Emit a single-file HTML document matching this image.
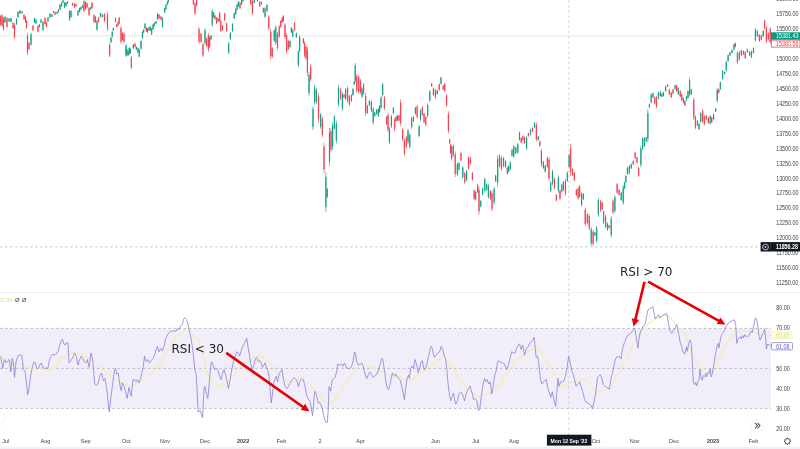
<!DOCTYPE html>
<html><head><meta charset="utf-8"><title>Chart</title>
<style>
html,body{margin:0;padding:0;background:#fff;}
body{width:800px;height:449px;overflow:hidden;position:relative;font-family:"Liberation Sans",Arial,sans-serif;}
svg{position:absolute;left:0;top:0;display:block;}
svg text{font-family:"Liberation Sans",Arial,sans-serif;}
</style></head><body>
<svg width="800" height="449" viewBox="0 0 800 449">

<rect x="0" y="0" width="800" height="449" fill="#ffffff"/>
<rect x="0" y="328.4" width="771" height="80" fill="#f2eef9"/>
<rect x="0" y="446.8" width="800" height="2.2" fill="#f0f1f4"/>
<rect x="0" y="292" width="800" height="1" fill="#eef0f3"/>
<rect x="0" y="35.4" width="771" height="1" fill="#ececec"/>
<line x1="0" y1="246.9" x2="760" y2="246.9" stroke="#c4c6cc" stroke-width="1" stroke-dasharray="2.5 2.5"/>
<line x1="0" y1="328.4" x2="771" y2="328.4" stroke="#b2b4bc" stroke-width="0.9" stroke-dasharray="2.5 2.6"/>
<line x1="0" y1="368.4" x2="771" y2="368.4" stroke="#b2b4bc" stroke-width="0.9" stroke-dasharray="2.5 2.6"/>
<line x1="0" y1="408.4" x2="771" y2="408.4" stroke="#b2b4bc" stroke-width="0.9" stroke-dasharray="2.5 2.6"/>
<line x1="568.8" y1="0" x2="568.8" y2="435" stroke="#c6c8ce" stroke-width="0.8" stroke-dasharray="2.4 2.75"/>
<rect x="0.2" y="15" width="0.6" height="11" fill="#f0424f"/>
<rect x="-0.12" y="16.32" width="1.25" height="8.36" fill="#f0424f"/>
<rect x="1.7" y="14" width="0.6" height="13" fill="#f0424f"/>
<rect x="1.38" y="15.56" width="1.25" height="9.88" fill="#f0424f"/>
<rect x="3.2" y="17" width="0.6" height="14" fill="#f0424f"/>
<rect x="2.88" y="18.68" width="1.25" height="10.64" fill="#f0424f"/>
<rect x="4.7" y="16" width="0.6" height="7" fill="#149f88"/>
<rect x="4.38" y="16.84" width="1.25" height="5.32" fill="#149f88"/>
<rect x="6.7" y="17" width="0.6" height="11" fill="#f0424f"/>
<rect x="6.38" y="18.32" width="1.25" height="8.36" fill="#f0424f"/>
<rect x="8.7" y="18" width="0.6" height="4" fill="#149f88"/>
<rect x="8.38" y="18.48" width="1.25" height="3.04" fill="#149f88"/>
<rect x="10.7" y="17.5" width="0.6" height="5" fill="#149f88"/>
<rect x="10.38" y="18.1" width="1.25" height="3.8" fill="#149f88"/>
<rect x="12.7" y="22" width="0.6" height="7" fill="#f0424f"/>
<rect x="12.38" y="22.84" width="1.25" height="5.32" fill="#f0424f"/>
<rect x="14.2" y="23" width="0.6" height="16" fill="#f0424f"/>
<rect x="13.88" y="24.92" width="1.25" height="12.16" fill="#f0424f"/>
<rect x="16.2" y="18" width="0.6" height="7" fill="#149f88"/>
<rect x="15.88" y="18.84" width="1.25" height="5.32" fill="#149f88"/>
<rect x="17.7" y="11" width="0.6" height="7" fill="#149f88"/>
<rect x="17.38" y="11.84" width="1.25" height="5.32" fill="#149f88"/>
<rect x="19.7" y="10" width="0.6" height="4" fill="#149f88"/>
<rect x="19.38" y="10.48" width="1.25" height="3.04" fill="#149f88"/>
<rect x="21.7" y="11" width="0.6" height="2.5" fill="#149f88"/>
<rect x="21.38" y="11.3" width="1.25" height="1.9" fill="#149f88"/>
<rect x="23.7" y="14" width="0.6" height="6" fill="#f0424f"/>
<rect x="23.38" y="14.72" width="1.25" height="4.56" fill="#f0424f"/>
<rect x="25.2" y="16" width="0.6" height="7" fill="#f0424f"/>
<rect x="24.88" y="16.84" width="1.25" height="5.32" fill="#f0424f"/>
<rect x="26.2" y="20" width="0.6" height="9" fill="#f0424f"/>
<rect x="25.88" y="21.08" width="1.25" height="6.84" fill="#f0424f"/>
<rect x="27.2" y="33" width="0.6" height="22" fill="#f0424f"/>
<rect x="26.88" y="35.64" width="1.25" height="16.72" fill="#f0424f"/>
<rect x="28.7" y="42" width="0.6" height="8" fill="#f0424f"/>
<rect x="28.38" y="42.96" width="1.25" height="6.08" fill="#f0424f"/>
<rect x="30.7" y="32.5" width="0.6" height="13.5" fill="#149f88"/>
<rect x="30.38" y="34.12" width="1.25" height="10.26" fill="#149f88"/>
<rect x="32.7" y="25" width="0.6" height="6" fill="#f0424f"/>
<rect x="32.38" y="25.72" width="1.25" height="4.56" fill="#f0424f"/>
<rect x="34.2" y="17.5" width="0.6" height="5.5" fill="#149f88"/>
<rect x="33.88" y="18.16" width="1.25" height="4.18" fill="#149f88"/>
<rect x="35.7" y="19" width="0.6" height="5" fill="#149f88"/>
<rect x="35.38" y="19.6" width="1.25" height="3.8" fill="#149f88"/>
<rect x="37.7" y="25" width="0.6" height="7.5" fill="#f0424f"/>
<rect x="37.38" y="25.9" width="1.25" height="5.7" fill="#f0424f"/>
<rect x="39.2" y="24" width="0.6" height="3.5" fill="#149f88"/>
<rect x="38.88" y="24.42" width="1.25" height="2.66" fill="#149f88"/>
<rect x="40.7" y="19" width="0.6" height="4" fill="#149f88"/>
<rect x="40.38" y="19.48" width="1.25" height="3.04" fill="#149f88"/>
<rect x="42.7" y="21" width="0.6" height="10" fill="#149f88"/>
<rect x="42.38" y="22.2" width="1.25" height="7.6" fill="#149f88"/>
<rect x="44.7" y="17" width="0.6" height="8" fill="#f0424f"/>
<rect x="44.38" y="17.96" width="1.25" height="6.08" fill="#f0424f"/>
<rect x="46.2" y="21.5" width="0.6" height="6" fill="#f0424f"/>
<rect x="45.88" y="22.22" width="1.25" height="4.56" fill="#f0424f"/>
<rect x="47.7" y="17" width="0.6" height="5" fill="#149f88"/>
<rect x="47.38" y="17.6" width="1.25" height="3.8" fill="#149f88"/>
<rect x="49.7" y="13" width="0.6" height="5" fill="#149f88"/>
<rect x="49.38" y="13.6" width="1.25" height="3.8" fill="#149f88"/>
<rect x="51.7" y="14" width="0.6" height="3" fill="#149f88"/>
<rect x="51.38" y="14.36" width="1.25" height="2.28" fill="#149f88"/>
<rect x="53.2" y="11" width="0.6" height="2" fill="#f0424f"/>
<rect x="52.88" y="11.24" width="1.25" height="1.52" fill="#f0424f"/>
<rect x="54.7" y="11.5" width="0.6" height="3.5" fill="#f0424f"/>
<rect x="54.38" y="11.92" width="1.25" height="2.66" fill="#f0424f"/>
<rect x="56.7" y="11.5" width="0.6" height="2.5" fill="#149f88"/>
<rect x="56.38" y="11.8" width="1.25" height="1.9" fill="#149f88"/>
<rect x="58.2" y="9" width="0.6" height="3.5" fill="#149f88"/>
<rect x="57.88" y="9.42" width="1.25" height="2.66" fill="#149f88"/>
<rect x="59.7" y="4" width="0.6" height="6" fill="#149f88"/>
<rect x="59.38" y="4.72" width="1.25" height="4.56" fill="#149f88"/>
<rect x="61.2" y="2" width="0.6" height="5" fill="#149f88"/>
<rect x="60.88" y="2.6" width="1.25" height="3.8" fill="#149f88"/>
<rect x="62.7" y="0" width="0.6" height="3" fill="#149f88"/>
<rect x="62.38" y="0.36" width="1.25" height="2.28" fill="#149f88"/>
<rect x="64.2" y="2" width="0.6" height="6" fill="#149f88"/>
<rect x="63.88" y="2.72" width="1.25" height="4.56" fill="#149f88"/>
<rect x="65.7" y="2" width="0.6" height="4.5" fill="#149f88"/>
<rect x="65.38" y="2.54" width="1.25" height="3.42" fill="#149f88"/>
<rect x="67.2" y="1" width="0.6" height="3" fill="#149f88"/>
<rect x="66.88" y="1.36" width="1.25" height="2.28" fill="#149f88"/>
<rect x="69.2" y="10" width="0.6" height="11" fill="#149f88"/>
<rect x="68.88" y="11.32" width="1.25" height="8.36" fill="#149f88"/>
<rect x="70.7" y="10" width="0.6" height="8" fill="#149f88"/>
<rect x="70.38" y="10.96" width="1.25" height="6.08" fill="#149f88"/>
<rect x="72.2" y="2.5" width="0.6" height="3.5" fill="#f0424f"/>
<rect x="71.88" y="2.92" width="1.25" height="2.66" fill="#f0424f"/>
<rect x="74.2" y="3" width="0.6" height="5" fill="#f0424f"/>
<rect x="73.88" y="3.6" width="1.25" height="3.8" fill="#f0424f"/>
<rect x="75.7" y="4" width="0.6" height="2.5" fill="#f0424f"/>
<rect x="75.38" y="4.3" width="1.25" height="1.9" fill="#f0424f"/>
<rect x="77.7" y="10" width="0.6" height="6" fill="#149f88"/>
<rect x="77.38" y="10.72" width="1.25" height="4.56" fill="#149f88"/>
<rect x="79.2" y="7.5" width="0.6" height="5" fill="#149f88"/>
<rect x="78.88" y="8.1" width="1.25" height="3.8" fill="#149f88"/>
<rect x="80.7" y="6.5" width="0.6" height="3.5" fill="#149f88"/>
<rect x="80.38" y="6.92" width="1.25" height="2.66" fill="#149f88"/>
<rect x="82.2" y="5" width="0.6" height="3" fill="#149f88"/>
<rect x="81.88" y="5.36" width="1.25" height="2.28" fill="#149f88"/>
<rect x="83.7" y="0" width="0.6" height="12.5" fill="#f0424f"/>
<rect x="83.38" y="1.5" width="1.25" height="9.5" fill="#f0424f"/>
<rect x="85.2" y="1" width="0.6" height="9" fill="#f0424f"/>
<rect x="84.88" y="2.08" width="1.25" height="6.84" fill="#f0424f"/>
<rect x="86.7" y="2.5" width="0.6" height="5.5" fill="#f0424f"/>
<rect x="86.38" y="3.16" width="1.25" height="4.18" fill="#f0424f"/>
<rect x="88.7" y="7" width="0.6" height="9" fill="#f0424f"/>
<rect x="88.38" y="8.08" width="1.25" height="6.84" fill="#f0424f"/>
<rect x="90.2" y="7" width="0.6" height="3" fill="#149f88"/>
<rect x="89.88" y="7.36" width="1.25" height="2.28" fill="#149f88"/>
<rect x="91.7" y="2" width="0.6" height="7" fill="#f0424f"/>
<rect x="91.38" y="2.84" width="1.25" height="5.32" fill="#f0424f"/>
<rect x="93.7" y="14" width="0.6" height="9" fill="#f0424f"/>
<rect x="93.38" y="15.08" width="1.25" height="6.84" fill="#f0424f"/>
<rect x="95.2" y="16" width="0.6" height="7" fill="#f0424f"/>
<rect x="94.88" y="16.84" width="1.25" height="5.32" fill="#f0424f"/>
<rect x="96.7" y="20" width="0.6" height="11" fill="#149f88"/>
<rect x="96.38" y="21.32" width="1.25" height="8.36" fill="#149f88"/>
<rect x="98.2" y="17" width="0.6" height="5.5" fill="#f0424f"/>
<rect x="97.88" y="17.66" width="1.25" height="4.18" fill="#f0424f"/>
<rect x="100.2" y="12.5" width="0.6" height="5" fill="#149f88"/>
<rect x="99.88" y="13.1" width="1.25" height="3.8" fill="#149f88"/>
<rect x="102.2" y="14" width="0.6" height="3.5" fill="#149f88"/>
<rect x="101.88" y="14.42" width="1.25" height="2.66" fill="#149f88"/>
<rect x="104.2" y="13" width="0.6" height="9" fill="#f0424f"/>
<rect x="103.88" y="14.08" width="1.25" height="6.84" fill="#f0424f"/>
<rect x="107.2" y="12" width="0.6" height="19" fill="#f0424f"/>
<rect x="106.88" y="14.28" width="1.25" height="14.44" fill="#f0424f"/>
<rect x="109.4" y="43" width="0.6" height="14" fill="#f0424f"/>
<rect x="109.08" y="44.68" width="1.25" height="10.64" fill="#f0424f"/>
<rect x="110.7" y="37" width="0.6" height="6" fill="#149f88"/>
<rect x="110.38" y="37.72" width="1.25" height="4.56" fill="#149f88"/>
<rect x="111.9" y="31" width="0.6" height="6.5" fill="#149f88"/>
<rect x="111.58" y="31.78" width="1.25" height="4.94" fill="#149f88"/>
<rect x="113" y="27.5" width="0.6" height="3.5" fill="#149f88"/>
<rect x="112.67" y="27.92" width="1.25" height="2.66" fill="#149f88"/>
<rect x="115.2" y="17.5" width="0.6" height="5" fill="#149f88"/>
<rect x="114.88" y="18.1" width="1.25" height="3.8" fill="#149f88"/>
<rect x="116.4" y="24" width="0.6" height="3.5" fill="#f0424f"/>
<rect x="116.08" y="24.42" width="1.25" height="2.66" fill="#f0424f"/>
<rect x="117.7" y="21.5" width="0.6" height="4.5" fill="#f0424f"/>
<rect x="117.38" y="22.04" width="1.25" height="3.42" fill="#f0424f"/>
<rect x="118.9" y="17" width="0.6" height="7" fill="#f0424f"/>
<rect x="118.58" y="17.84" width="1.25" height="5.32" fill="#f0424f"/>
<rect x="120.7" y="26" width="0.6" height="18" fill="#f0424f"/>
<rect x="120.38" y="28.16" width="1.25" height="13.68" fill="#f0424f"/>
<rect x="122.2" y="32" width="0.6" height="9" fill="#f0424f"/>
<rect x="121.88" y="33.08" width="1.25" height="6.84" fill="#f0424f"/>
<rect x="123.7" y="32.5" width="0.6" height="10.5" fill="#f0424f"/>
<rect x="123.38" y="33.76" width="1.25" height="7.98" fill="#f0424f"/>
<rect x="125.7" y="44" width="0.6" height="13" fill="#149f88"/>
<rect x="125.38" y="45.56" width="1.25" height="9.88" fill="#149f88"/>
<rect x="126.5" y="48" width="0.6" height="8" fill="#149f88"/>
<rect x="126.17" y="48.96" width="1.25" height="6.08" fill="#149f88"/>
<rect x="127.7" y="50" width="0.6" height="6" fill="#149f88"/>
<rect x="127.38" y="50.72" width="1.25" height="4.56" fill="#149f88"/>
<rect x="128.9" y="47" width="0.6" height="8" fill="#149f88"/>
<rect x="128.57" y="47.96" width="1.25" height="6.08" fill="#149f88"/>
<rect x="129.9" y="48" width="0.6" height="6" fill="#149f88"/>
<rect x="129.57" y="48.72" width="1.25" height="4.56" fill="#149f88"/>
<rect x="131" y="56" width="0.6" height="13" fill="#f0424f"/>
<rect x="130.68" y="57.56" width="1.25" height="9.88" fill="#f0424f"/>
<rect x="133" y="44" width="0.6" height="5" fill="#149f88"/>
<rect x="132.68" y="44.6" width="1.25" height="3.8" fill="#149f88"/>
<rect x="134.7" y="43" width="0.6" height="4.5" fill="#f0424f"/>
<rect x="134.38" y="43.54" width="1.25" height="3.42" fill="#f0424f"/>
<rect x="136" y="46.5" width="0.6" height="3.5" fill="#149f88"/>
<rect x="135.68" y="46.92" width="1.25" height="2.66" fill="#149f88"/>
<rect x="137.7" y="47.5" width="0.6" height="5.5" fill="#149f88"/>
<rect x="137.38" y="48.16" width="1.25" height="4.18" fill="#149f88"/>
<rect x="138.9" y="49" width="0.6" height="8.5" fill="#149f88"/>
<rect x="138.57" y="50.02" width="1.25" height="6.46" fill="#149f88"/>
<rect x="140.7" y="40" width="0.6" height="10" fill="#149f88"/>
<rect x="140.38" y="41.2" width="1.25" height="7.6" fill="#149f88"/>
<rect x="142.2" y="31" width="0.6" height="8" fill="#149f88"/>
<rect x="141.88" y="31.96" width="1.25" height="6.08" fill="#149f88"/>
<rect x="143.4" y="29" width="0.6" height="4" fill="#149f88"/>
<rect x="143.07" y="29.48" width="1.25" height="3.04" fill="#149f88"/>
<rect x="144.7" y="23" width="0.6" height="6" fill="#149f88"/>
<rect x="144.38" y="23.72" width="1.25" height="4.56" fill="#149f88"/>
<rect x="146" y="27" width="0.6" height="5" fill="#f0424f"/>
<rect x="145.68" y="27.6" width="1.25" height="3.8" fill="#f0424f"/>
<rect x="147.2" y="28" width="0.6" height="5" fill="#f0424f"/>
<rect x="146.88" y="28.6" width="1.25" height="3.8" fill="#f0424f"/>
<rect x="148.7" y="27" width="0.6" height="4" fill="#149f88"/>
<rect x="148.38" y="27.48" width="1.25" height="3.04" fill="#149f88"/>
<rect x="150" y="26" width="0.6" height="5" fill="#149f88"/>
<rect x="149.68" y="26.6" width="1.25" height="3.8" fill="#149f88"/>
<rect x="151.4" y="28" width="0.6" height="7" fill="#149f88"/>
<rect x="151.07" y="28.84" width="1.25" height="5.32" fill="#149f88"/>
<rect x="152.7" y="24" width="0.6" height="6" fill="#149f88"/>
<rect x="152.38" y="24.72" width="1.25" height="4.56" fill="#149f88"/>
<rect x="153.9" y="22.5" width="0.6" height="4" fill="#149f88"/>
<rect x="153.57" y="22.98" width="1.25" height="3.04" fill="#149f88"/>
<rect x="155.7" y="21" width="0.6" height="3" fill="#149f88"/>
<rect x="155.38" y="21.36" width="1.25" height="2.28" fill="#149f88"/>
<rect x="157.2" y="13" width="0.6" height="7" fill="#149f88"/>
<rect x="156.88" y="13.84" width="1.25" height="5.32" fill="#149f88"/>
<rect x="158.7" y="14" width="0.6" height="5" fill="#f0424f"/>
<rect x="158.38" y="14.6" width="1.25" height="3.8" fill="#f0424f"/>
<rect x="160.7" y="16" width="0.6" height="4" fill="#f0424f"/>
<rect x="160.38" y="16.48" width="1.25" height="3.04" fill="#f0424f"/>
<rect x="162.2" y="17" width="0.6" height="11" fill="#149f88"/>
<rect x="161.88" y="18.32" width="1.25" height="8.36" fill="#149f88"/>
<rect x="164.4" y="8" width="0.6" height="5" fill="#149f88"/>
<rect x="164.07" y="8.6" width="1.25" height="3.8" fill="#149f88"/>
<rect x="165.7" y="4" width="0.6" height="6" fill="#149f88"/>
<rect x="165.38" y="4.72" width="1.25" height="4.56" fill="#149f88"/>
<rect x="167.2" y="1" width="0.6" height="4" fill="#149f88"/>
<rect x="166.88" y="1.48" width="1.25" height="3.04" fill="#149f88"/>
<rect x="168" y="-2" width="0.6" height="4.5" fill="#149f88"/>
<rect x="167.68" y="-1.46" width="1.25" height="3.42" fill="#149f88"/>
<rect x="193" y="-2" width="0.6" height="7" fill="#f0424f"/>
<rect x="192.68" y="-1.16" width="1.25" height="5.32" fill="#f0424f"/>
<rect x="194.7" y="2" width="0.6" height="13" fill="#f0424f"/>
<rect x="194.38" y="3.56" width="1.25" height="9.88" fill="#f0424f"/>
<rect x="196.4" y="-2" width="0.6" height="8.5" fill="#f0424f"/>
<rect x="196.07" y="-0.98" width="1.25" height="6.46" fill="#f0424f"/>
<rect x="198.7" y="27" width="0.6" height="17" fill="#f0424f"/>
<rect x="198.38" y="29.04" width="1.25" height="12.92" fill="#f0424f"/>
<rect x="200.7" y="32.5" width="0.6" height="10.5" fill="#f0424f"/>
<rect x="200.38" y="33.76" width="1.25" height="7.98" fill="#f0424f"/>
<rect x="202.7" y="42.5" width="0.6" height="14.5" fill="#f0424f"/>
<rect x="202.38" y="44.24" width="1.25" height="11.02" fill="#f0424f"/>
<rect x="204.7" y="28" width="0.6" height="17" fill="#149f88"/>
<rect x="204.38" y="30.04" width="1.25" height="12.92" fill="#149f88"/>
<rect x="206.4" y="37.5" width="0.6" height="9.5" fill="#f0424f"/>
<rect x="206.07" y="38.64" width="1.25" height="7.22" fill="#f0424f"/>
<rect x="208" y="33" width="0.6" height="19" fill="#f0424f"/>
<rect x="207.68" y="35.28" width="1.25" height="14.44" fill="#f0424f"/>
<rect x="209.4" y="36" width="0.6" height="12" fill="#f0424f"/>
<rect x="209.07" y="37.44" width="1.25" height="9.12" fill="#f0424f"/>
<rect x="210.7" y="35" width="0.6" height="5" fill="#149f88"/>
<rect x="210.38" y="35.6" width="1.25" height="3.8" fill="#149f88"/>
<rect x="211.9" y="9" width="0.6" height="18" fill="#149f88"/>
<rect x="211.57" y="11.16" width="1.25" height="13.68" fill="#149f88"/>
<rect x="213.4" y="12" width="0.6" height="6" fill="#149f88"/>
<rect x="213.07" y="12.72" width="1.25" height="4.56" fill="#149f88"/>
<rect x="214.7" y="15" width="0.6" height="5" fill="#f0424f"/>
<rect x="214.38" y="15.6" width="1.25" height="3.8" fill="#f0424f"/>
<rect x="216.4" y="17" width="0.6" height="7" fill="#f0424f"/>
<rect x="216.07" y="17.84" width="1.25" height="5.32" fill="#f0424f"/>
<rect x="217.7" y="18" width="0.6" height="4" fill="#f0424f"/>
<rect x="217.38" y="18.48" width="1.25" height="3.04" fill="#f0424f"/>
<rect x="219.4" y="12" width="0.6" height="10.5" fill="#f0424f"/>
<rect x="219.07" y="13.26" width="1.25" height="7.98" fill="#f0424f"/>
<rect x="220.5" y="20" width="0.6" height="12" fill="#f0424f"/>
<rect x="220.18" y="21.44" width="1.25" height="9.12" fill="#f0424f"/>
<rect x="222.2" y="25" width="0.6" height="6" fill="#f0424f"/>
<rect x="221.88" y="25.72" width="1.25" height="4.56" fill="#f0424f"/>
<rect x="224.4" y="12.5" width="0.6" height="8.5" fill="#f0424f"/>
<rect x="224.07" y="13.52" width="1.25" height="6.46" fill="#f0424f"/>
<rect x="226.4" y="22.5" width="0.6" height="9.5" fill="#f0424f"/>
<rect x="226.07" y="23.64" width="1.25" height="7.22" fill="#f0424f"/>
<rect x="228.4" y="42" width="0.6" height="12" fill="#149f88"/>
<rect x="228.07" y="43.44" width="1.25" height="9.12" fill="#149f88"/>
<rect x="230" y="32" width="0.6" height="8" fill="#149f88"/>
<rect x="229.68" y="32.96" width="1.25" height="6.08" fill="#149f88"/>
<rect x="232.2" y="23" width="0.6" height="9" fill="#149f88"/>
<rect x="231.88" y="24.08" width="1.25" height="6.84" fill="#149f88"/>
<rect x="233.9" y="12.5" width="0.6" height="6.5" fill="#149f88"/>
<rect x="233.57" y="13.28" width="1.25" height="4.94" fill="#149f88"/>
<rect x="235.5" y="8" width="0.6" height="7" fill="#149f88"/>
<rect x="235.18" y="8.84" width="1.25" height="5.32" fill="#149f88"/>
<rect x="236.7" y="4" width="0.6" height="6" fill="#149f88"/>
<rect x="236.38" y="4.72" width="1.25" height="4.56" fill="#149f88"/>
<rect x="238" y="1" width="0.6" height="6" fill="#149f88"/>
<rect x="237.68" y="1.72" width="1.25" height="4.56" fill="#149f88"/>
<rect x="239.7" y="2" width="0.6" height="7" fill="#f0424f"/>
<rect x="239.38" y="2.84" width="1.25" height="5.32" fill="#f0424f"/>
<rect x="241.4" y="-1" width="0.6" height="6" fill="#149f88"/>
<rect x="241.07" y="-0.28" width="1.25" height="4.56" fill="#149f88"/>
<rect x="242.7" y="-2" width="0.6" height="3.7" fill="#149f88"/>
<rect x="242.38" y="-1.56" width="1.25" height="2.81" fill="#149f88"/>
<rect x="250.5" y="-2" width="0.6" height="7" fill="#f0424f"/>
<rect x="250.18" y="-1.16" width="1.25" height="5.32" fill="#f0424f"/>
<rect x="252.2" y="-1" width="0.6" height="16" fill="#f0424f"/>
<rect x="251.88" y="0.92" width="1.25" height="12.16" fill="#f0424f"/>
<rect x="253.9" y="-2" width="0.6" height="5.3" fill="#149f88"/>
<rect x="253.57" y="-1.36" width="1.25" height="4.03" fill="#149f88"/>
<rect x="257.2" y="-2" width="0.6" height="3.7" fill="#149f88"/>
<rect x="256.88" y="-1.56" width="1.25" height="2.81" fill="#149f88"/>
<rect x="259.4" y="1" width="0.6" height="6" fill="#f0424f"/>
<rect x="259.07" y="1.72" width="1.25" height="4.56" fill="#f0424f"/>
<rect x="261" y="1.7" width="0.6" height="3.3" fill="#f0424f"/>
<rect x="260.68" y="2.1" width="1.25" height="2.51" fill="#f0424f"/>
<rect x="263" y="7.5" width="0.6" height="5.5" fill="#f0424f"/>
<rect x="262.68" y="8.16" width="1.25" height="4.18" fill="#f0424f"/>
<rect x="264.7" y="7" width="0.6" height="11" fill="#149f88"/>
<rect x="264.38" y="8.32" width="1.25" height="8.36" fill="#149f88"/>
<rect x="266.7" y="4" width="0.6" height="8" fill="#149f88"/>
<rect x="266.38" y="4.96" width="1.25" height="6.08" fill="#149f88"/>
<rect x="268.5" y="15" width="0.6" height="15" fill="#f0424f"/>
<rect x="268.18" y="16.8" width="1.25" height="11.4" fill="#f0424f"/>
<rect x="270.5" y="28" width="0.6" height="32" fill="#f0424f"/>
<rect x="270.18" y="31.84" width="1.25" height="24.32" fill="#f0424f"/>
<rect x="271.9" y="47" width="0.6" height="11" fill="#f0424f"/>
<rect x="271.57" y="48.32" width="1.25" height="8.36" fill="#f0424f"/>
<rect x="273.9" y="29" width="0.6" height="13" fill="#149f88"/>
<rect x="273.57" y="30.56" width="1.25" height="9.88" fill="#149f88"/>
<rect x="275.5" y="25" width="0.6" height="20" fill="#149f88"/>
<rect x="275.18" y="27.4" width="1.25" height="15.2" fill="#149f88"/>
<rect x="277.2" y="32" width="0.6" height="18" fill="#f0424f"/>
<rect x="276.88" y="34.16" width="1.25" height="13.68" fill="#f0424f"/>
<rect x="278.9" y="25" width="0.6" height="13" fill="#f0424f"/>
<rect x="278.57" y="26.56" width="1.25" height="9.88" fill="#f0424f"/>
<rect x="280.5" y="20" width="0.6" height="8" fill="#f0424f"/>
<rect x="280.18" y="20.96" width="1.25" height="6.08" fill="#f0424f"/>
<rect x="281.9" y="17" width="0.6" height="6" fill="#f0424f"/>
<rect x="281.57" y="17.72" width="1.25" height="4.56" fill="#f0424f"/>
<rect x="283" y="15" width="0.6" height="7" fill="#f0424f"/>
<rect x="282.68" y="15.84" width="1.25" height="5.32" fill="#f0424f"/>
<rect x="284.7" y="23" width="0.6" height="16" fill="#f0424f"/>
<rect x="284.38" y="24.92" width="1.25" height="12.16" fill="#f0424f"/>
<rect x="286.4" y="33" width="0.6" height="21" fill="#f0424f"/>
<rect x="286.07" y="35.52" width="1.25" height="15.96" fill="#f0424f"/>
<rect x="288" y="40" width="0.6" height="10" fill="#f0424f"/>
<rect x="287.68" y="41.2" width="1.25" height="7.6" fill="#f0424f"/>
<rect x="289.7" y="40" width="0.6" height="8" fill="#149f88"/>
<rect x="289.38" y="40.96" width="1.25" height="6.08" fill="#149f88"/>
<rect x="291" y="27" width="0.6" height="6" fill="#149f88"/>
<rect x="290.68" y="27.72" width="1.25" height="4.56" fill="#149f88"/>
<rect x="292.5" y="29" width="0.6" height="8.5" fill="#149f88"/>
<rect x="292.18" y="30.02" width="1.25" height="6.46" fill="#149f88"/>
<rect x="294.2" y="22" width="0.6" height="9" fill="#f0424f"/>
<rect x="293.88" y="23.08" width="1.25" height="6.84" fill="#f0424f"/>
<rect x="296" y="32.5" width="0.6" height="5.5" fill="#149f88"/>
<rect x="295.68" y="33.16" width="1.25" height="4.18" fill="#149f88"/>
<rect x="298" y="50" width="0.6" height="17" fill="#149f88"/>
<rect x="297.68" y="52.04" width="1.25" height="12.92" fill="#149f88"/>
<rect x="299.4" y="35" width="0.6" height="18" fill="#149f88"/>
<rect x="299.07" y="37.16" width="1.25" height="13.68" fill="#149f88"/>
<rect x="303.1" y="38" width="0.6" height="6" fill="#f0424f"/>
<rect x="302.77" y="38.72" width="1.25" height="4.56" fill="#f0424f"/>
<rect x="304.4" y="41.3" width="0.6" height="16.1" fill="#f0424f"/>
<rect x="304.07" y="43.23" width="1.25" height="12.24" fill="#f0424f"/>
<rect x="305.7" y="45" width="0.6" height="15" fill="#f0424f"/>
<rect x="305.38" y="46.8" width="1.25" height="11.4" fill="#f0424f"/>
<rect x="307.1" y="47" width="0.6" height="29" fill="#f0424f"/>
<rect x="306.77" y="50.48" width="1.25" height="22.04" fill="#f0424f"/>
<rect x="308.7" y="72" width="0.6" height="24" fill="#149f88"/>
<rect x="308.38" y="74.88" width="1.25" height="18.24" fill="#149f88"/>
<rect x="310.4" y="64.7" width="0.6" height="16.7" fill="#f0424f"/>
<rect x="310.07" y="66.7" width="1.25" height="12.69" fill="#f0424f"/>
<rect x="312.7" y="106" width="0.6" height="24" fill="#149f88"/>
<rect x="312.38" y="108.88" width="1.25" height="18.24" fill="#149f88"/>
<rect x="314.4" y="84.7" width="0.6" height="20" fill="#149f88"/>
<rect x="314.07" y="87.1" width="1.25" height="15.2" fill="#149f88"/>
<rect x="316.1" y="88" width="0.6" height="16" fill="#149f88"/>
<rect x="315.77" y="89.92" width="1.25" height="12.16" fill="#149f88"/>
<rect x="318.2" y="92.7" width="0.6" height="30.3" fill="#f0424f"/>
<rect x="317.88" y="96.34" width="1.25" height="23.03" fill="#f0424f"/>
<rect x="320.4" y="112.7" width="0.6" height="16" fill="#149f88"/>
<rect x="320.07" y="114.62" width="1.25" height="12.16" fill="#149f88"/>
<rect x="322" y="116.7" width="0.6" height="20.7" fill="#f0424f"/>
<rect x="321.68" y="119.18" width="1.25" height="15.73" fill="#f0424f"/>
<rect x="323.7" y="143" width="0.6" height="30" fill="#f0424f"/>
<rect x="323.38" y="146.6" width="1.25" height="22.8" fill="#f0424f"/>
<rect x="325.6" y="172" width="0.6" height="40" fill="#149f88"/>
<rect x="325.27" y="176.8" width="1.25" height="30.4" fill="#149f88"/>
<rect x="326.9" y="188" width="0.6" height="10" fill="#149f88"/>
<rect x="326.57" y="189.2" width="1.25" height="7.6" fill="#149f88"/>
<rect x="329.2" y="128" width="0.6" height="38" fill="#149f88"/>
<rect x="328.88" y="132.56" width="1.25" height="28.88" fill="#149f88"/>
<rect x="330.7" y="128" width="0.6" height="24.5" fill="#f0424f"/>
<rect x="330.38" y="130.94" width="1.25" height="18.62" fill="#f0424f"/>
<rect x="332.4" y="122" width="0.6" height="28" fill="#149f88"/>
<rect x="332.07" y="125.36" width="1.25" height="21.28" fill="#149f88"/>
<rect x="334.1" y="114.7" width="0.6" height="15.3" fill="#149f88"/>
<rect x="333.77" y="116.54" width="1.25" height="11.63" fill="#149f88"/>
<rect x="336" y="120.7" width="0.6" height="22.7" fill="#149f88"/>
<rect x="335.68" y="123.42" width="1.25" height="17.25" fill="#149f88"/>
<rect x="338.2" y="85" width="0.6" height="22" fill="#149f88"/>
<rect x="337.88" y="87.64" width="1.25" height="16.72" fill="#149f88"/>
<rect x="340.3" y="88" width="0.6" height="12" fill="#f0424f"/>
<rect x="339.98" y="89.44" width="1.25" height="9.12" fill="#f0424f"/>
<rect x="342.1" y="92" width="0.6" height="19" fill="#149f88"/>
<rect x="341.77" y="94.28" width="1.25" height="14.44" fill="#149f88"/>
<rect x="343.7" y="94" width="0.6" height="4" fill="#f0424f"/>
<rect x="343.38" y="94.48" width="1.25" height="3.04" fill="#f0424f"/>
<rect x="345.4" y="88" width="0.6" height="12" fill="#149f88"/>
<rect x="345.07" y="89.44" width="1.25" height="9.12" fill="#149f88"/>
<rect x="347.3" y="86" width="0.6" height="17" fill="#f0424f"/>
<rect x="346.98" y="88.04" width="1.25" height="12.92" fill="#f0424f"/>
<rect x="349.1" y="95" width="0.6" height="11" fill="#f0424f"/>
<rect x="348.77" y="96.32" width="1.25" height="8.36" fill="#f0424f"/>
<rect x="351.1" y="94" width="0.6" height="8" fill="#f0424f"/>
<rect x="350.77" y="94.96" width="1.25" height="6.08" fill="#f0424f"/>
<rect x="352.7" y="88" width="0.6" height="8" fill="#149f88"/>
<rect x="352.38" y="88.96" width="1.25" height="6.08" fill="#149f88"/>
<rect x="353.9" y="81" width="0.6" height="4" fill="#149f88"/>
<rect x="353.57" y="81.48" width="1.25" height="3.04" fill="#149f88"/>
<rect x="354.9" y="63" width="0.6" height="20" fill="#149f88"/>
<rect x="354.57" y="65.4" width="1.25" height="15.2" fill="#149f88"/>
<rect x="356.5" y="74" width="0.6" height="19" fill="#f0424f"/>
<rect x="356.18" y="76.28" width="1.25" height="14.44" fill="#f0424f"/>
<rect x="358.5" y="75" width="0.6" height="19" fill="#f0424f"/>
<rect x="358.18" y="77.28" width="1.25" height="14.44" fill="#f0424f"/>
<rect x="360.2" y="78.7" width="0.6" height="15.3" fill="#f0424f"/>
<rect x="359.88" y="80.54" width="1.25" height="11.63" fill="#f0424f"/>
<rect x="361.7" y="87" width="0.6" height="11" fill="#149f88"/>
<rect x="361.38" y="88.32" width="1.25" height="8.36" fill="#149f88"/>
<rect x="363.3" y="83" width="0.6" height="12" fill="#f0424f"/>
<rect x="362.98" y="84.44" width="1.25" height="9.12" fill="#f0424f"/>
<rect x="365.4" y="92.7" width="0.6" height="23.3" fill="#f0424f"/>
<rect x="365.07" y="95.5" width="1.25" height="17.71" fill="#f0424f"/>
<rect x="367.1" y="104.7" width="0.6" height="9.3" fill="#f0424f"/>
<rect x="366.77" y="105.82" width="1.25" height="7.07" fill="#f0424f"/>
<rect x="369.1" y="100" width="0.6" height="6" fill="#149f88"/>
<rect x="368.77" y="100.72" width="1.25" height="4.56" fill="#149f88"/>
<rect x="371.1" y="100.7" width="0.6" height="11.3" fill="#149f88"/>
<rect x="370.77" y="102.06" width="1.25" height="8.59" fill="#149f88"/>
<rect x="372.9" y="107" width="0.6" height="17.7" fill="#149f88"/>
<rect x="372.57" y="109.12" width="1.25" height="13.45" fill="#149f88"/>
<rect x="374.5" y="112" width="0.6" height="4.7" fill="#149f88"/>
<rect x="374.18" y="112.56" width="1.25" height="3.57" fill="#149f88"/>
<rect x="376.4" y="109" width="0.6" height="5.7" fill="#149f88"/>
<rect x="376.07" y="109.68" width="1.25" height="4.33" fill="#149f88"/>
<rect x="378" y="108" width="0.6" height="9" fill="#149f88"/>
<rect x="377.68" y="109.08" width="1.25" height="6.84" fill="#149f88"/>
<rect x="379.3" y="105" width="0.6" height="8" fill="#149f88"/>
<rect x="378.98" y="105.96" width="1.25" height="6.08" fill="#149f88"/>
<rect x="380.7" y="96" width="0.6" height="13" fill="#149f88"/>
<rect x="380.38" y="97.56" width="1.25" height="9.88" fill="#149f88"/>
<rect x="382.4" y="82.7" width="0.6" height="14" fill="#149f88"/>
<rect x="382.07" y="84.38" width="1.25" height="10.64" fill="#149f88"/>
<rect x="384.1" y="96" width="0.6" height="14" fill="#f0424f"/>
<rect x="383.77" y="97.68" width="1.25" height="10.64" fill="#f0424f"/>
<rect x="386.4" y="116" width="0.6" height="9" fill="#f0424f"/>
<rect x="386.07" y="117.08" width="1.25" height="6.84" fill="#f0424f"/>
<rect x="387.7" y="112.7" width="0.6" height="19.3" fill="#f0424f"/>
<rect x="387.38" y="115.02" width="1.25" height="14.67" fill="#f0424f"/>
<rect x="389.1" y="126.7" width="0.6" height="17.3" fill="#149f88"/>
<rect x="388.77" y="128.78" width="1.25" height="13.15" fill="#149f88"/>
<rect x="391.1" y="114.7" width="0.6" height="13.3" fill="#149f88"/>
<rect x="390.77" y="116.3" width="1.25" height="10.11" fill="#149f88"/>
<rect x="393.1" y="107" width="0.6" height="7" fill="#149f88"/>
<rect x="392.77" y="107.84" width="1.25" height="5.32" fill="#149f88"/>
<rect x="394.4" y="118" width="0.6" height="13" fill="#f0424f"/>
<rect x="394.07" y="119.56" width="1.25" height="9.88" fill="#f0424f"/>
<rect x="395.7" y="116" width="0.6" height="6" fill="#f0424f"/>
<rect x="395.38" y="116.72" width="1.25" height="4.56" fill="#f0424f"/>
<rect x="397.1" y="115" width="0.6" height="6" fill="#149f88"/>
<rect x="396.77" y="115.72" width="1.25" height="4.56" fill="#149f88"/>
<rect x="398.7" y="114.7" width="0.6" height="6.7" fill="#f0424f"/>
<rect x="398.38" y="115.5" width="1.25" height="5.09" fill="#f0424f"/>
<rect x="400.4" y="99.4" width="0.6" height="26.6" fill="#f0424f"/>
<rect x="400.07" y="102.59" width="1.25" height="20.22" fill="#f0424f"/>
<rect x="402.4" y="128" width="0.6" height="13.4" fill="#f0424f"/>
<rect x="402.07" y="129.61" width="1.25" height="10.18" fill="#f0424f"/>
<rect x="404.1" y="138.7" width="0.6" height="17.3" fill="#f0424f"/>
<rect x="403.77" y="140.78" width="1.25" height="13.15" fill="#f0424f"/>
<rect x="406" y="136" width="0.6" height="12" fill="#f0424f"/>
<rect x="405.68" y="137.44" width="1.25" height="9.12" fill="#f0424f"/>
<rect x="407.7" y="128.7" width="0.6" height="15.3" fill="#149f88"/>
<rect x="407.38" y="130.54" width="1.25" height="11.63" fill="#149f88"/>
<rect x="409.5" y="133" width="0.6" height="15.7" fill="#149f88"/>
<rect x="409.18" y="134.88" width="1.25" height="11.93" fill="#149f88"/>
<rect x="411.4" y="116.7" width="0.6" height="12" fill="#149f88"/>
<rect x="411.07" y="118.14" width="1.25" height="9.12" fill="#149f88"/>
<rect x="413.1" y="116" width="0.6" height="6" fill="#f0424f"/>
<rect x="412.77" y="116.72" width="1.25" height="4.56" fill="#f0424f"/>
<rect x="415.1" y="106.7" width="0.6" height="8" fill="#149f88"/>
<rect x="414.77" y="107.66" width="1.25" height="6.08" fill="#149f88"/>
<rect x="416.8" y="104.7" width="0.6" height="14" fill="#f0424f"/>
<rect x="416.48" y="106.38" width="1.25" height="10.64" fill="#f0424f"/>
<rect x="418.8" y="124.7" width="0.6" height="12.7" fill="#149f88"/>
<rect x="418.48" y="126.22" width="1.25" height="9.65" fill="#149f88"/>
<rect x="420.2" y="109" width="0.6" height="12" fill="#149f88"/>
<rect x="419.88" y="110.44" width="1.25" height="9.12" fill="#149f88"/>
<rect x="422" y="106" width="0.6" height="10" fill="#f0424f"/>
<rect x="421.68" y="107.2" width="1.25" height="7.6" fill="#f0424f"/>
<rect x="423.7" y="112.7" width="0.6" height="10.7" fill="#f0424f"/>
<rect x="423.38" y="113.98" width="1.25" height="8.13" fill="#f0424f"/>
<rect x="425.5" y="116" width="0.6" height="10" fill="#f0424f"/>
<rect x="425.18" y="117.2" width="1.25" height="7.6" fill="#f0424f"/>
<rect x="427.4" y="103.3" width="0.6" height="14.1" fill="#149f88"/>
<rect x="427.07" y="104.99" width="1.25" height="10.72" fill="#149f88"/>
<rect x="429.5" y="90" width="0.6" height="12" fill="#149f88"/>
<rect x="429.18" y="91.44" width="1.25" height="9.12" fill="#149f88"/>
<rect x="431.4" y="83" width="0.6" height="4" fill="#f0424f"/>
<rect x="431.07" y="83.48" width="1.25" height="3.04" fill="#f0424f"/>
<rect x="433.1" y="87.4" width="0.6" height="8.6" fill="#f0424f"/>
<rect x="432.77" y="88.43" width="1.25" height="6.54" fill="#f0424f"/>
<rect x="435.1" y="88.7" width="0.6" height="10" fill="#f0424f"/>
<rect x="434.77" y="89.9" width="1.25" height="7.6" fill="#f0424f"/>
<rect x="436.9" y="90" width="0.6" height="4.7" fill="#149f88"/>
<rect x="436.57" y="90.56" width="1.25" height="3.57" fill="#149f88"/>
<rect x="438.9" y="83.4" width="0.6" height="7.3" fill="#f0424f"/>
<rect x="438.57" y="84.28" width="1.25" height="5.55" fill="#f0424f"/>
<rect x="440.7" y="76.7" width="0.6" height="8" fill="#149f88"/>
<rect x="440.38" y="77.66" width="1.25" height="6.08" fill="#149f88"/>
<rect x="442.9" y="85" width="0.6" height="5" fill="#f0424f"/>
<rect x="442.57" y="85.6" width="1.25" height="3.8" fill="#f0424f"/>
<rect x="444.5" y="82.7" width="0.6" height="9.3" fill="#f0424f"/>
<rect x="444.18" y="83.82" width="1.25" height="7.07" fill="#f0424f"/>
<rect x="446.3" y="94" width="0.6" height="12.7" fill="#f0424f"/>
<rect x="445.98" y="95.52" width="1.25" height="9.65" fill="#f0424f"/>
<rect x="448.1" y="111.3" width="0.6" height="22.1" fill="#f0424f"/>
<rect x="447.77" y="113.95" width="1.25" height="16.8" fill="#f0424f"/>
<rect x="449.4" y="138.7" width="0.6" height="5.3" fill="#f0424f"/>
<rect x="449.07" y="139.34" width="1.25" height="4.03" fill="#f0424f"/>
<rect x="450.3" y="144" width="0.6" height="10" fill="#f0424f"/>
<rect x="449.98" y="145.2" width="1.25" height="7.6" fill="#f0424f"/>
<rect x="451.4" y="144.7" width="0.6" height="16" fill="#f0424f"/>
<rect x="451.07" y="146.62" width="1.25" height="12.16" fill="#f0424f"/>
<rect x="453" y="144.7" width="0.6" height="12" fill="#149f88"/>
<rect x="452.68" y="146.14" width="1.25" height="9.12" fill="#149f88"/>
<rect x="454.9" y="151.4" width="0.6" height="25.6" fill="#f0424f"/>
<rect x="454.57" y="154.47" width="1.25" height="19.46" fill="#f0424f"/>
<rect x="457" y="162.7" width="0.6" height="13.3" fill="#149f88"/>
<rect x="456.68" y="164.3" width="1.25" height="10.11" fill="#149f88"/>
<rect x="458.7" y="162" width="0.6" height="8.7" fill="#149f88"/>
<rect x="458.38" y="163.04" width="1.25" height="6.61" fill="#149f88"/>
<rect x="460.7" y="152" width="0.6" height="9.4" fill="#f0424f"/>
<rect x="460.38" y="153.13" width="1.25" height="7.14" fill="#f0424f"/>
<rect x="462.5" y="166" width="0.6" height="12.7" fill="#149f88"/>
<rect x="462.18" y="167.52" width="1.25" height="9.65" fill="#149f88"/>
<rect x="464.5" y="172" width="0.6" height="12" fill="#f0424f"/>
<rect x="464.18" y="173.44" width="1.25" height="9.12" fill="#f0424f"/>
<rect x="466.3" y="170" width="0.6" height="11.4" fill="#149f88"/>
<rect x="465.98" y="171.37" width="1.25" height="8.66" fill="#149f88"/>
<rect x="468.2" y="156" width="0.6" height="14" fill="#f0424f"/>
<rect x="467.88" y="157.68" width="1.25" height="10.64" fill="#f0424f"/>
<rect x="470.1" y="156.7" width="0.6" height="8" fill="#f0424f"/>
<rect x="469.77" y="157.66" width="1.25" height="6.08" fill="#f0424f"/>
<rect x="472.1" y="172" width="0.6" height="8.7" fill="#f0424f"/>
<rect x="471.77" y="173.04" width="1.25" height="6.61" fill="#f0424f"/>
<rect x="473.8" y="189.4" width="0.6" height="10.6" fill="#f0424f"/>
<rect x="473.48" y="190.67" width="1.25" height="8.06" fill="#f0424f"/>
<rect x="475.4" y="190.7" width="0.6" height="10" fill="#149f88"/>
<rect x="475.07" y="191.9" width="1.25" height="7.6" fill="#149f88"/>
<rect x="477.4" y="184" width="0.6" height="9.4" fill="#f0424f"/>
<rect x="477.07" y="185.13" width="1.25" height="7.14" fill="#f0424f"/>
<rect x="478.7" y="186.7" width="0.6" height="28" fill="#f0424f"/>
<rect x="478.38" y="190.06" width="1.25" height="21.28" fill="#f0424f"/>
<rect x="480.5" y="200" width="0.6" height="7.4" fill="#149f88"/>
<rect x="480.18" y="200.89" width="1.25" height="5.62" fill="#149f88"/>
<rect x="482.3" y="187.4" width="0.6" height="8" fill="#149f88"/>
<rect x="481.98" y="188.36" width="1.25" height="6.08" fill="#149f88"/>
<rect x="484.5" y="177.4" width="0.6" height="15.3" fill="#149f88"/>
<rect x="484.18" y="179.24" width="1.25" height="11.63" fill="#149f88"/>
<rect x="486.4" y="183.4" width="0.6" height="7.3" fill="#149f88"/>
<rect x="486.07" y="184.28" width="1.25" height="5.55" fill="#149f88"/>
<rect x="488.1" y="184" width="0.6" height="14.7" fill="#149f88"/>
<rect x="487.77" y="185.76" width="1.25" height="11.17" fill="#149f88"/>
<rect x="490.1" y="190" width="0.6" height="10" fill="#f0424f"/>
<rect x="489.77" y="191.2" width="1.25" height="7.6" fill="#f0424f"/>
<rect x="491.7" y="190.7" width="0.6" height="20.7" fill="#f0424f"/>
<rect x="491.38" y="193.18" width="1.25" height="15.73" fill="#f0424f"/>
<rect x="493.8" y="186.7" width="0.6" height="18" fill="#149f88"/>
<rect x="493.48" y="188.86" width="1.25" height="13.68" fill="#149f88"/>
<rect x="495.4" y="174.7" width="0.6" height="7.3" fill="#149f88"/>
<rect x="495.07" y="175.58" width="1.25" height="5.55" fill="#149f88"/>
<rect x="497.4" y="155.4" width="0.6" height="31.3" fill="#149f88"/>
<rect x="497.07" y="159.16" width="1.25" height="23.79" fill="#149f88"/>
<rect x="499.2" y="154" width="0.6" height="13.4" fill="#f0424f"/>
<rect x="498.88" y="155.61" width="1.25" height="10.18" fill="#f0424f"/>
<rect x="501" y="156" width="0.6" height="14.7" fill="#f0424f"/>
<rect x="500.68" y="157.76" width="1.25" height="11.17" fill="#f0424f"/>
<rect x="503.2" y="156.7" width="0.6" height="10.7" fill="#149f88"/>
<rect x="502.88" y="157.98" width="1.25" height="8.13" fill="#149f88"/>
<rect x="505.2" y="160" width="0.6" height="8" fill="#149f88"/>
<rect x="504.88" y="160.96" width="1.25" height="6.08" fill="#149f88"/>
<rect x="507" y="166.7" width="0.6" height="8" fill="#f0424f"/>
<rect x="506.68" y="167.66" width="1.25" height="6.08" fill="#f0424f"/>
<rect x="508.5" y="165" width="0.6" height="7.7" fill="#149f88"/>
<rect x="508.18" y="165.92" width="1.25" height="5.85" fill="#149f88"/>
<rect x="510.1" y="161.3" width="0.6" height="8.7" fill="#149f88"/>
<rect x="509.77" y="162.34" width="1.25" height="6.61" fill="#149f88"/>
<rect x="511.7" y="148.7" width="0.6" height="8" fill="#149f88"/>
<rect x="511.38" y="149.66" width="1.25" height="6.08" fill="#149f88"/>
<rect x="513.5" y="144.7" width="0.6" height="13.3" fill="#149f88"/>
<rect x="513.17" y="146.3" width="1.25" height="10.11" fill="#149f88"/>
<rect x="515.5" y="146.7" width="0.6" height="7.3" fill="#149f88"/>
<rect x="515.17" y="147.58" width="1.25" height="5.55" fill="#149f88"/>
<rect x="517.5" y="142.7" width="0.6" height="11.3" fill="#149f88"/>
<rect x="517.17" y="144.06" width="1.25" height="8.59" fill="#149f88"/>
<rect x="519.2" y="131.4" width="0.6" height="9.3" fill="#149f88"/>
<rect x="518.88" y="132.52" width="1.25" height="7.07" fill="#149f88"/>
<rect x="520.9" y="137.4" width="0.6" height="6" fill="#f0424f"/>
<rect x="520.58" y="138.12" width="1.25" height="4.56" fill="#f0424f"/>
<rect x="522.6" y="135.4" width="0.6" height="5.3" fill="#f0424f"/>
<rect x="522.27" y="136.04" width="1.25" height="4.03" fill="#f0424f"/>
<rect x="524.3" y="136.7" width="0.6" height="7.3" fill="#f0424f"/>
<rect x="523.98" y="137.58" width="1.25" height="5.55" fill="#f0424f"/>
<rect x="526.3" y="136" width="0.6" height="14" fill="#149f88"/>
<rect x="525.98" y="137.68" width="1.25" height="10.64" fill="#149f88"/>
<rect x="528.1" y="132.7" width="0.6" height="4" fill="#f0424f"/>
<rect x="527.77" y="133.18" width="1.25" height="3.04" fill="#f0424f"/>
<rect x="530.2" y="128.7" width="0.6" height="6.7" fill="#149f88"/>
<rect x="529.88" y="129.5" width="1.25" height="5.09" fill="#149f88"/>
<rect x="532.2" y="127.4" width="0.6" height="4.6" fill="#f0424f"/>
<rect x="531.88" y="127.95" width="1.25" height="3.5" fill="#f0424f"/>
<rect x="534.2" y="122" width="0.6" height="6" fill="#149f88"/>
<rect x="533.88" y="122.72" width="1.25" height="4.56" fill="#149f88"/>
<rect x="536" y="122.7" width="0.6" height="18.7" fill="#f0424f"/>
<rect x="535.67" y="124.94" width="1.25" height="14.21" fill="#f0424f"/>
<rect x="537.9" y="136" width="0.6" height="4.7" fill="#149f88"/>
<rect x="537.58" y="136.56" width="1.25" height="3.57" fill="#149f88"/>
<rect x="539.5" y="140.7" width="0.6" height="6" fill="#f0424f"/>
<rect x="539.17" y="141.42" width="1.25" height="4.56" fill="#f0424f"/>
<rect x="541.1" y="148.7" width="0.6" height="18" fill="#f0424f"/>
<rect x="540.77" y="150.86" width="1.25" height="13.68" fill="#f0424f"/>
<rect x="543.1" y="160.7" width="0.6" height="8.3" fill="#149f88"/>
<rect x="542.77" y="161.7" width="1.25" height="6.31" fill="#149f88"/>
<rect x="544.9" y="164.7" width="0.6" height="8" fill="#149f88"/>
<rect x="544.58" y="165.66" width="1.25" height="6.08" fill="#149f88"/>
<rect x="547" y="156.7" width="0.6" height="11.3" fill="#f0424f"/>
<rect x="546.67" y="158.06" width="1.25" height="8.59" fill="#f0424f"/>
<rect x="548.7" y="156.7" width="0.6" height="24.7" fill="#f0424f"/>
<rect x="548.38" y="159.66" width="1.25" height="18.77" fill="#f0424f"/>
<rect x="550.4" y="181.4" width="0.6" height="10.6" fill="#149f88"/>
<rect x="550.08" y="182.67" width="1.25" height="8.06" fill="#149f88"/>
<rect x="552.2" y="169.4" width="0.6" height="16" fill="#149f88"/>
<rect x="551.88" y="171.32" width="1.25" height="12.16" fill="#149f88"/>
<rect x="554.1" y="177.4" width="0.6" height="12" fill="#f0424f"/>
<rect x="553.77" y="178.84" width="1.25" height="9.12" fill="#f0424f"/>
<rect x="556" y="194" width="0.6" height="7.4" fill="#f0424f"/>
<rect x="555.67" y="194.89" width="1.25" height="5.62" fill="#f0424f"/>
<rect x="558" y="175.4" width="0.6" height="17.3" fill="#149f88"/>
<rect x="557.67" y="177.48" width="1.25" height="13.15" fill="#149f88"/>
<rect x="559.7" y="189.4" width="0.6" height="10.6" fill="#f0424f"/>
<rect x="559.38" y="190.67" width="1.25" height="8.06" fill="#f0424f"/>
<rect x="561.5" y="184" width="0.6" height="8.7" fill="#149f88"/>
<rect x="561.17" y="185.04" width="1.25" height="6.61" fill="#149f88"/>
<rect x="563.1" y="181" width="0.6" height="10" fill="#149f88"/>
<rect x="562.77" y="182.2" width="1.25" height="7.6" fill="#149f88"/>
<rect x="565.1" y="178.7" width="0.6" height="17.3" fill="#f0424f"/>
<rect x="564.77" y="180.78" width="1.25" height="13.15" fill="#f0424f"/>
<rect x="567" y="171.4" width="0.6" height="10.6" fill="#149f88"/>
<rect x="566.67" y="172.67" width="1.25" height="8.06" fill="#149f88"/>
<rect x="568.8" y="153.4" width="0.6" height="15.3" fill="#149f88"/>
<rect x="568.48" y="155.24" width="1.25" height="11.63" fill="#149f88"/>
<rect x="570.4" y="144" width="0.6" height="32" fill="#f0424f"/>
<rect x="570.08" y="147.84" width="1.25" height="24.32" fill="#f0424f"/>
<rect x="572.3" y="168" width="0.6" height="8" fill="#f0424f"/>
<rect x="571.98" y="168.96" width="1.25" height="6.08" fill="#f0424f"/>
<rect x="574" y="172" width="0.6" height="9.4" fill="#f0424f"/>
<rect x="573.67" y="173.13" width="1.25" height="7.14" fill="#f0424f"/>
<rect x="576" y="189" width="0.6" height="7" fill="#f0424f"/>
<rect x="575.67" y="189.84" width="1.25" height="5.32" fill="#f0424f"/>
<rect x="577.8" y="186.7" width="0.6" height="13.3" fill="#f0424f"/>
<rect x="577.48" y="188.3" width="1.25" height="10.11" fill="#f0424f"/>
<rect x="579.4" y="185" width="0.6" height="13" fill="#f0424f"/>
<rect x="579.08" y="186.56" width="1.25" height="9.88" fill="#f0424f"/>
<rect x="581.3" y="192" width="0.6" height="14.7" fill="#149f88"/>
<rect x="580.98" y="193.76" width="1.25" height="11.17" fill="#149f88"/>
<rect x="583.1" y="193" width="0.6" height="7" fill="#149f88"/>
<rect x="582.77" y="193.84" width="1.25" height="5.32" fill="#149f88"/>
<rect x="584.9" y="207.5" width="0.6" height="18.8" fill="#f0424f"/>
<rect x="584.58" y="209.76" width="1.25" height="14.29" fill="#f0424f"/>
<rect x="587" y="213" width="0.6" height="11.4" fill="#f0424f"/>
<rect x="586.67" y="214.37" width="1.25" height="8.66" fill="#f0424f"/>
<rect x="588.9" y="214" width="0.6" height="16.4" fill="#f0424f"/>
<rect x="588.58" y="215.97" width="1.25" height="12.46" fill="#f0424f"/>
<rect x="590.9" y="227" width="0.6" height="18.7" fill="#149f88"/>
<rect x="590.58" y="229.24" width="1.25" height="14.21" fill="#149f88"/>
<rect x="592.8" y="229.7" width="0.6" height="16.3" fill="#f0424f"/>
<rect x="592.48" y="231.66" width="1.25" height="12.39" fill="#f0424f"/>
<rect x="594.6" y="232" width="0.6" height="4" fill="#149f88"/>
<rect x="594.27" y="232.48" width="1.25" height="3.04" fill="#149f88"/>
<rect x="596.4" y="225.6" width="0.6" height="17.4" fill="#149f88"/>
<rect x="596.08" y="227.69" width="1.25" height="13.22" fill="#149f88"/>
<rect x="598" y="198" width="0.6" height="19" fill="#149f88"/>
<rect x="597.67" y="200.28" width="1.25" height="14.44" fill="#149f88"/>
<rect x="600.4" y="200" width="0.6" height="11.8" fill="#f0424f"/>
<rect x="600.08" y="201.42" width="1.25" height="8.97" fill="#f0424f"/>
<rect x="601.9" y="201.7" width="0.6" height="8.3" fill="#f0424f"/>
<rect x="601.58" y="202.7" width="1.25" height="6.31" fill="#f0424f"/>
<rect x="603.3" y="210" width="0.6" height="14" fill="#f0424f"/>
<rect x="602.98" y="211.68" width="1.25" height="10.64" fill="#f0424f"/>
<rect x="605.3" y="215" width="0.6" height="13.5" fill="#149f88"/>
<rect x="604.98" y="216.62" width="1.25" height="10.26" fill="#149f88"/>
<rect x="607.2" y="222.4" width="0.6" height="8.6" fill="#149f88"/>
<rect x="606.88" y="223.43" width="1.25" height="6.54" fill="#149f88"/>
<rect x="608.9" y="225" width="0.6" height="3.4" fill="#f0424f"/>
<rect x="608.58" y="225.41" width="1.25" height="2.58" fill="#f0424f"/>
<rect x="610.9" y="216" width="0.6" height="21.7" fill="#149f88"/>
<rect x="610.58" y="218.6" width="1.25" height="16.49" fill="#149f88"/>
<rect x="612.7" y="198.8" width="0.6" height="15.6" fill="#f0424f"/>
<rect x="612.38" y="200.67" width="1.25" height="11.86" fill="#f0424f"/>
<rect x="614.6" y="195" width="0.6" height="18" fill="#149f88"/>
<rect x="614.27" y="197.16" width="1.25" height="13.68" fill="#149f88"/>
<rect x="616.8" y="183" width="0.6" height="11" fill="#f0424f"/>
<rect x="616.48" y="184.32" width="1.25" height="8.36" fill="#f0424f"/>
<rect x="618.8" y="189" width="0.6" height="6.5" fill="#f0424f"/>
<rect x="618.48" y="189.78" width="1.25" height="4.94" fill="#f0424f"/>
<rect x="620.9" y="191.6" width="0.6" height="9.4" fill="#149f88"/>
<rect x="620.58" y="192.73" width="1.25" height="7.14" fill="#149f88"/>
<rect x="622.9" y="185" width="0.6" height="20" fill="#149f88"/>
<rect x="622.58" y="187.4" width="1.25" height="15.2" fill="#149f88"/>
<rect x="624.3" y="181.5" width="0.6" height="7.8" fill="#149f88"/>
<rect x="623.98" y="182.44" width="1.25" height="5.93" fill="#149f88"/>
<rect x="625.6" y="175" width="0.6" height="8" fill="#149f88"/>
<rect x="625.27" y="175.96" width="1.25" height="6.08" fill="#149f88"/>
<rect x="627.1" y="166.7" width="0.6" height="8.3" fill="#149f88"/>
<rect x="626.77" y="167.7" width="1.25" height="6.31" fill="#149f88"/>
<rect x="629" y="165" width="0.6" height="9.5" fill="#149f88"/>
<rect x="628.67" y="166.14" width="1.25" height="7.22" fill="#149f88"/>
<rect x="630.9" y="163.5" width="0.6" height="5.5" fill="#149f88"/>
<rect x="630.58" y="164.16" width="1.25" height="4.18" fill="#149f88"/>
<rect x="632.9" y="160.4" width="0.6" height="4.6" fill="#f0424f"/>
<rect x="632.58" y="160.95" width="1.25" height="3.5" fill="#f0424f"/>
<rect x="634.8" y="151.8" width="0.6" height="7.1" fill="#f0424f"/>
<rect x="634.48" y="152.65" width="1.25" height="5.4" fill="#f0424f"/>
<rect x="636.7" y="156.5" width="0.6" height="7" fill="#f0424f"/>
<rect x="636.38" y="157.34" width="1.25" height="5.32" fill="#f0424f"/>
<rect x="638.4" y="166.7" width="0.6" height="10.1" fill="#f0424f"/>
<rect x="638.08" y="167.91" width="1.25" height="7.68" fill="#f0424f"/>
<rect x="640.6" y="145.6" width="0.6" height="21.8" fill="#149f88"/>
<rect x="640.27" y="148.22" width="1.25" height="16.57" fill="#149f88"/>
<rect x="642.4" y="137" width="0.6" height="13.3" fill="#149f88"/>
<rect x="642.08" y="138.6" width="1.25" height="10.11" fill="#149f88"/>
<rect x="644.2" y="137" width="0.6" height="10" fill="#149f88"/>
<rect x="643.88" y="138.2" width="1.25" height="7.6" fill="#149f88"/>
<rect x="646" y="137" width="0.6" height="4.7" fill="#149f88"/>
<rect x="645.67" y="137.56" width="1.25" height="3.57" fill="#149f88"/>
<rect x="647.6" y="109" width="0.6" height="33.5" fill="#149f88"/>
<rect x="647.27" y="113.02" width="1.25" height="25.46" fill="#149f88"/>
<rect x="649.1" y="103.5" width="0.6" height="4.5" fill="#149f88"/>
<rect x="648.77" y="104.04" width="1.25" height="3.42" fill="#149f88"/>
<rect x="650.9" y="93.4" width="0.6" height="10.1" fill="#149f88"/>
<rect x="650.58" y="94.61" width="1.25" height="7.68" fill="#149f88"/>
<rect x="652.7" y="92.6" width="0.6" height="5.4" fill="#149f88"/>
<rect x="652.38" y="93.25" width="1.25" height="4.1" fill="#149f88"/>
<rect x="654.5" y="96.5" width="0.6" height="7.8" fill="#f0424f"/>
<rect x="654.17" y="97.44" width="1.25" height="5.93" fill="#f0424f"/>
<rect x="656.1" y="95.7" width="0.6" height="12.3" fill="#f0424f"/>
<rect x="655.77" y="97.18" width="1.25" height="9.35" fill="#f0424f"/>
<rect x="658.1" y="91.8" width="0.6" height="7.8" fill="#149f88"/>
<rect x="657.77" y="92.74" width="1.25" height="5.93" fill="#149f88"/>
<rect x="660" y="91" width="0.6" height="5.5" fill="#149f88"/>
<rect x="659.67" y="91.66" width="1.25" height="4.18" fill="#149f88"/>
<rect x="661.5" y="93.4" width="0.6" height="3.9" fill="#149f88"/>
<rect x="661.17" y="93.87" width="1.25" height="2.96" fill="#149f88"/>
<rect x="663.1" y="91.8" width="0.6" height="4.7" fill="#149f88"/>
<rect x="662.77" y="92.36" width="1.25" height="3.57" fill="#149f88"/>
<rect x="665.4" y="85.6" width="0.6" height="6.2" fill="#149f88"/>
<rect x="665.08" y="86.34" width="1.25" height="4.71" fill="#149f88"/>
<rect x="667.3" y="84" width="0.6" height="3" fill="#f0424f"/>
<rect x="666.98" y="84.36" width="1.25" height="2.28" fill="#f0424f"/>
<rect x="669" y="88.7" width="0.6" height="6.3" fill="#f0424f"/>
<rect x="668.67" y="89.46" width="1.25" height="4.79" fill="#f0424f"/>
<rect x="670.9" y="91.8" width="0.6" height="6.2" fill="#f0424f"/>
<rect x="670.58" y="92.54" width="1.25" height="4.71" fill="#f0424f"/>
<rect x="672.7" y="88.7" width="0.6" height="5.5" fill="#f0424f"/>
<rect x="672.38" y="89.36" width="1.25" height="4.18" fill="#f0424f"/>
<rect x="674.8" y="84.8" width="0.6" height="4.7" fill="#149f88"/>
<rect x="674.48" y="85.36" width="1.25" height="3.57" fill="#149f88"/>
<rect x="676.4" y="84.8" width="0.6" height="7" fill="#f0424f"/>
<rect x="676.08" y="85.64" width="1.25" height="5.32" fill="#f0424f"/>
<rect x="677.9" y="87.2" width="0.6" height="7.8" fill="#149f88"/>
<rect x="677.58" y="88.14" width="1.25" height="5.93" fill="#149f88"/>
<rect x="679.9" y="90.3" width="0.6" height="7" fill="#f0424f"/>
<rect x="679.58" y="91.14" width="1.25" height="5.32" fill="#f0424f"/>
<rect x="681.5" y="93.4" width="0.6" height="7.8" fill="#f0424f"/>
<rect x="681.17" y="94.34" width="1.25" height="5.93" fill="#f0424f"/>
<rect x="683.1" y="97.3" width="0.6" height="6.2" fill="#f0424f"/>
<rect x="682.77" y="98.04" width="1.25" height="4.71" fill="#f0424f"/>
<rect x="684.6" y="100.4" width="0.6" height="5.6" fill="#f0424f"/>
<rect x="684.27" y="101.07" width="1.25" height="4.26" fill="#f0424f"/>
<rect x="686.2" y="95.7" width="0.6" height="5.5" fill="#149f88"/>
<rect x="685.88" y="96.36" width="1.25" height="4.18" fill="#149f88"/>
<rect x="687.7" y="90.3" width="0.6" height="8.6" fill="#149f88"/>
<rect x="687.38" y="91.33" width="1.25" height="6.54" fill="#149f88"/>
<rect x="689.3" y="77.8" width="0.6" height="18.7" fill="#149f88"/>
<rect x="688.98" y="80.04" width="1.25" height="14.21" fill="#149f88"/>
<rect x="690.9" y="88.7" width="0.6" height="6.3" fill="#149f88"/>
<rect x="690.58" y="89.46" width="1.25" height="4.79" fill="#149f88"/>
<rect x="693.5" y="97.3" width="0.6" height="22.7" fill="#f0424f"/>
<rect x="693.17" y="100.02" width="1.25" height="17.25" fill="#f0424f"/>
<rect x="695.1" y="115.2" width="0.6" height="14.1" fill="#f0424f"/>
<rect x="694.77" y="116.89" width="1.25" height="10.72" fill="#f0424f"/>
<rect x="697.1" y="120" width="0.6" height="6" fill="#f0424f"/>
<rect x="696.77" y="120.72" width="1.25" height="4.56" fill="#f0424f"/>
<rect x="698.7" y="123" width="0.6" height="7" fill="#149f88"/>
<rect x="698.38" y="123.84" width="1.25" height="5.32" fill="#149f88"/>
<rect x="700.5" y="112" width="0.6" height="11" fill="#149f88"/>
<rect x="700.17" y="113.32" width="1.25" height="8.36" fill="#149f88"/>
<rect x="702.4" y="109" width="0.6" height="14" fill="#f0424f"/>
<rect x="702.08" y="110.68" width="1.25" height="10.64" fill="#f0424f"/>
<rect x="704" y="115" width="0.6" height="10.4" fill="#f0424f"/>
<rect x="703.67" y="116.25" width="1.25" height="7.9" fill="#f0424f"/>
<rect x="706" y="115" width="0.6" height="5" fill="#f0424f"/>
<rect x="705.67" y="115.6" width="1.25" height="3.8" fill="#f0424f"/>
<rect x="708" y="116.8" width="0.6" height="7" fill="#f0424f"/>
<rect x="707.67" y="117.64" width="1.25" height="5.32" fill="#f0424f"/>
<rect x="709.9" y="115" width="0.6" height="9.6" fill="#149f88"/>
<rect x="709.58" y="116.15" width="1.25" height="7.3" fill="#149f88"/>
<rect x="711.5" y="116.8" width="0.6" height="6.2" fill="#f0424f"/>
<rect x="711.17" y="117.54" width="1.25" height="4.71" fill="#f0424f"/>
<rect x="713.3" y="113.7" width="0.6" height="6.3" fill="#149f88"/>
<rect x="712.98" y="114.46" width="1.25" height="4.79" fill="#149f88"/>
<rect x="715.4" y="108" width="0.6" height="4" fill="#149f88"/>
<rect x="715.08" y="108.48" width="1.25" height="3.04" fill="#149f88"/>
<rect x="716.9" y="88" width="0.6" height="14.8" fill="#149f88"/>
<rect x="716.58" y="89.78" width="1.25" height="11.25" fill="#149f88"/>
<rect x="718.5" y="88.7" width="0.6" height="4.7" fill="#f0424f"/>
<rect x="718.17" y="89.26" width="1.25" height="3.57" fill="#f0424f"/>
<rect x="720" y="81.6" width="0.6" height="8.4" fill="#149f88"/>
<rect x="719.67" y="82.61" width="1.25" height="6.38" fill="#149f88"/>
<rect x="722.3" y="70" width="0.6" height="10" fill="#149f88"/>
<rect x="721.98" y="71.2" width="1.25" height="7.6" fill="#149f88"/>
<rect x="724.3" y="71.5" width="0.6" height="3.1" fill="#149f88"/>
<rect x="723.98" y="71.87" width="1.25" height="2.36" fill="#149f88"/>
<rect x="725.9" y="60.6" width="0.6" height="10.9" fill="#149f88"/>
<rect x="725.58" y="61.91" width="1.25" height="8.28" fill="#149f88"/>
<rect x="727.8" y="54.3" width="0.6" height="7.7" fill="#149f88"/>
<rect x="727.48" y="55.22" width="1.25" height="5.85" fill="#149f88"/>
<rect x="729.7" y="52" width="0.6" height="4" fill="#149f88"/>
<rect x="729.38" y="52.48" width="1.25" height="3.04" fill="#149f88"/>
<rect x="731.7" y="49.6" width="0.6" height="3.9" fill="#149f88"/>
<rect x="731.38" y="50.07" width="1.25" height="2.96" fill="#149f88"/>
<rect x="733.7" y="43.4" width="0.6" height="7" fill="#149f88"/>
<rect x="733.38" y="44.24" width="1.25" height="5.32" fill="#149f88"/>
<rect x="735" y="42.6" width="0.6" height="4.7" fill="#f0424f"/>
<rect x="734.67" y="43.16" width="1.25" height="3.57" fill="#f0424f"/>
<rect x="737.1" y="51.2" width="0.6" height="12.5" fill="#f0424f"/>
<rect x="736.77" y="52.7" width="1.25" height="9.5" fill="#f0424f"/>
<rect x="739" y="51.2" width="0.6" height="9.4" fill="#149f88"/>
<rect x="738.67" y="52.33" width="1.25" height="7.14" fill="#149f88"/>
<rect x="741" y="49.6" width="0.6" height="6.4" fill="#f0424f"/>
<rect x="740.67" y="50.37" width="1.25" height="4.86" fill="#f0424f"/>
<rect x="743.1" y="50.4" width="0.6" height="4.6" fill="#f0424f"/>
<rect x="742.77" y="50.95" width="1.25" height="3.5" fill="#f0424f"/>
<rect x="744.9" y="51.2" width="0.6" height="7.8" fill="#f0424f"/>
<rect x="744.58" y="52.14" width="1.25" height="5.93" fill="#f0424f"/>
<rect x="747.1" y="48.8" width="0.6" height="4" fill="#149f88"/>
<rect x="746.77" y="49.28" width="1.25" height="3.04" fill="#149f88"/>
<rect x="749.3" y="51.2" width="0.6" height="4.8" fill="#149f88"/>
<rect x="748.98" y="51.78" width="1.25" height="3.65" fill="#149f88"/>
<rect x="751.2" y="50.4" width="0.6" height="7.8" fill="#149f88"/>
<rect x="750.88" y="51.34" width="1.25" height="5.93" fill="#149f88"/>
<rect x="753.2" y="47.3" width="0.6" height="6.2" fill="#149f88"/>
<rect x="752.88" y="48.04" width="1.25" height="4.71" fill="#149f88"/>
<rect x="755.1" y="27.8" width="0.6" height="14" fill="#149f88"/>
<rect x="754.77" y="29.48" width="1.25" height="10.64" fill="#149f88"/>
<rect x="757" y="30" width="0.6" height="7" fill="#149f88"/>
<rect x="756.67" y="30.84" width="1.25" height="5.32" fill="#149f88"/>
<rect x="759" y="34" width="0.6" height="7.8" fill="#f0424f"/>
<rect x="758.67" y="34.94" width="1.25" height="5.93" fill="#f0424f"/>
<rect x="760.9" y="34.8" width="0.6" height="5.5" fill="#f0424f"/>
<rect x="760.58" y="35.46" width="1.25" height="4.18" fill="#f0424f"/>
<rect x="762.9" y="30" width="0.6" height="7" fill="#149f88"/>
<rect x="762.58" y="30.84" width="1.25" height="5.32" fill="#149f88"/>
<rect x="764.4" y="19.4" width="0.6" height="10" fill="#f0424f"/>
<rect x="764.08" y="20.6" width="1.25" height="7.6" fill="#f0424f"/>
<rect x="766.1" y="26" width="0.6" height="17.4" fill="#f0424f"/>
<rect x="765.77" y="28.09" width="1.25" height="13.22" fill="#f0424f"/>
<rect x="768" y="32.5" width="0.6" height="7.8" fill="#f0424f"/>
<rect x="767.67" y="33.44" width="1.25" height="5.93" fill="#f0424f"/>
<rect x="769.9" y="27" width="0.6" height="17" fill="#f0424f"/>
<rect x="769.58" y="29.04" width="1.25" height="12.92" fill="#f0424f"/>
<polyline points="0,357.32 4.45,360.66 8.91,362.88 13.36,364 17.82,362.88 22.27,364 26.73,367.34 31.18,368.45 35.63,368.9 40.09,368.45 44.54,369.57 49,370.68 53.45,367.34 57.91,362.88 62.36,358.43 66.82,355.09 71.27,352.86 75.72,352.86 80.18,353.98 84.63,356.2 89.09,358.43 93.54,360.66 98,365.11 100,367.34 104.45,370.68 108.91,375.13 113.36,378.47 117.82,380.7 122.27,382.93 126.73,385.16 131.18,385.82 135.63,384.04 140.09,381.82 144.54,379.59 149,375.13 153.45,371.79 157.91,366.22 162.36,359.54 166.82,350.63 171.27,343.95 175.72,337.27 180.18,333.93 184.63,330.59 187.97,328.36 191.31,331.7 194.65,336.16 198,339.5 200,346.18 203.34,355.09 206.68,370.68 210.02,379.59 213.36,382.93 217.82,385.16 222.27,386.27 226.73,382.93 231.18,378.47 235.63,371.79 240.09,367.34 244.54,364 249,360.66 253.45,357.32 257.91,355.53 262.36,357.32 266.82,360.66 271.27,365.11 275.72,370.68 280.18,375.13 284.63,378.47 289.09,381.82 293.54,381.82 298,379.59 300,375.13 304.45,379.59 308.91,384.04 313.36,388.5 317.82,392.95 322.27,398.52 326.73,402.97 330.07,404.09 333.41,400.75 337.86,395.18 342.32,388.5 346.77,381.82 351.22,375.13 355.68,369.57 360.13,365.11 364.59,365.11 369.04,366.22 373.5,368.45 377.95,370.68 382.41,371.79 386.86,374.02 391.31,376.25 395.77,378.47 400,376.25 404.45,379.59 408.91,380.7 413.36,378.47 417.82,375.13 422.27,372.91 426.73,368.45 431.18,365.11 435.63,361.77 440.09,358.43 443.43,356.2 446.77,359.54 451.22,365.11 455.68,372.91 460.13,379.59 464.59,384.04 469.04,389.61 473.5,394.06 477.95,396.29 482.41,395.18 486.86,394.06 491.31,391.84 495.77,387.38 500,384.04 504.45,377.36 508.91,370.68 513.36,364 517.82,358.43 522.27,355.09 526.73,352.86 531.18,349.52 535.63,348.41 540.09,351.75 544.54,358.43 549,365.11 553.45,371.79 557.91,379.59 562.36,386.27 566.82,386.27 571.27,382.93 575.72,380.7 580.18,378.47 584.63,379.59 589.09,382.93 593.54,388.5 596.88,392.95 600,390.2 604.45,390.2 608.91,389.09 613.36,382.41 617.82,374.61 622.27,365.7 626.73,356.79 631.18,347.88 635.63,340.09 640.09,333.41 644.54,327.84 649,323.39 653.45,320.04 657.91,317.82 662.36,315.59 665.7,314.48 669.04,316.7 673.5,321.16 677.95,327.84 683.34,331.18 686.68,338.98 690.02,347.88 693.36,356.79 696.7,363.47 700.04,369.04 703.39,372.38 706.73,373.5 710.07,372.38 713.41,369.04 716.75,363.47 720.09,356.79 723.43,350.11 726.77,343.43 730.11,337.86 733.45,334.52 736.79,332.29 740.13,331.18 744.59,331.18 749.04,331.18 753.5,332.29 757.95,333.41 762.41,334.52 765.75,335.19 770.87,335.63" fill="none" stroke="#f2edb3" stroke-width="1.3" stroke-linejoin="round"/>
<polyline points="0,356.2 1.11,358.43 2.67,368.45 4.45,359.54 6.24,362.88 7.8,360.66 9.35,359.54 10.69,371.79 12.25,358.43 13.36,362.88 14.48,377.36 16.04,361.77 17.82,356.2 20.04,354.64 21.83,355.53 23.39,369.57 24.94,370.68 26.28,381.82 27.62,394.73 28.95,388.5 30.73,375.13 32.29,367.34 33.85,361.77 35.19,362.88 36.75,368.45 38.31,368.45 39.64,365.11 41.2,362.88 42.76,367.34 44.54,368.45 46.33,368.01 47.88,368.45 49.44,359.54 51.22,356.2 53.01,353.98 54.57,355.09 56.12,353.98 57.91,351.75 59.69,345.07 61.25,340.61 62.36,339.05 63.92,343.95 65.03,345.07 66.37,342.84 67.93,342.84 69.04,362.88 70.82,360.66 72.38,358.43 74.61,352.86 76.17,356.2 77.95,365.11 79.73,359.54 81.29,356.2 82.85,358.43 84.19,361.77 85.75,362.88 87.31,359.54 89.09,367.34 90.87,352.86 92.43,358.43 93.54,368.45 94.65,384.04 96.21,385.16 98,384.04 100,375.13 101.78,372.91 103.34,380.7 104.9,378.47 106.68,388.5 108.24,402.97 109.35,411.88 111.14,395.18 112.92,381.82 114.48,370.68 115.59,368.45 116.7,374.02 118.26,372.91 120.04,386.27 121.16,390.72 122.27,382.93 124.05,386.27 125.61,391.84 127.17,398.52 128.95,387.38 130.07,391.84 131.18,396.29 132.96,379.59 134.52,379.59 136.08,381.82 137.42,379.59 138.98,382.93 140.53,378.47 141.87,372.91 143.43,365.11 144.54,356.2 146.33,361.77 147.88,359.54 149.44,362.88 151.22,360.66 153.01,358.43 154.57,355.09 156.12,349.52 157.46,346.18 159.02,351.75 160.58,348.41 162.36,350.63 164.14,346.18 165.7,338.39 167.26,335.04 169.04,332.82 170.82,330.59 172.38,331.7 173.94,330.14 175.72,331.7 177.51,328.36 179.06,329.48 180.62,326.14 182.41,323.91 183.52,319.45 184.63,317.67 186.41,319.45 187.97,323.91 189.09,329.48 191.31,339.5 193.1,352.86 194.65,368.45 196.21,374.02 198.2,412 200.3,410.5 202.6,417.6 204.01,388.5 204.9,386.27 206.24,392.95 207.8,398.52 209.35,381.82 210.69,366.22 211.58,361.77 212.92,365.11 214.48,369.57 216.04,368.45 217.82,369.57 219.6,376.25 221.16,379.59 222.27,374.02 224.05,369.57 225.61,375.13 227.17,381.82 228.51,388.5 230.07,379.59 231.63,370.68 233.41,361.77 235.19,356.2 236.75,351.75 238.31,352.86 239.64,356.2 241.2,350.63 242.76,346.18 244.1,343.95 245.66,340.61 246.77,338.39 247.88,346.18 249.44,355.09 250.78,364 252.34,369.57 253.45,366.22 254.57,361.77 255.68,358.43 256.79,357.32 258.35,361.77 259.69,360.66 261.25,362.88 262.36,367.34 263.92,365.11 265.03,362.88 266.37,367.34 267.93,370.68 269.04,376.25 270.16,390.72 271.27,402.97 272.38,395.18 273.5,384.04 274.83,379.59 276.17,376.25 277.51,381.82 279.06,374.02 280.62,371.79 281.96,369.57 283.52,379.59 285.08,386.27 286.69,388.91 288.36,386.69 290.03,383.34 291.14,381.11 293.93,377.77 296.71,380 298.38,386.69 300.06,381.11 301.73,378.89 303.4,380 305.07,386.69 306.74,395.6 308.41,398.94 310.08,401.73 311.42,408.97 312.53,415.65 313.43,406.74 314.54,391.14 315.65,392.26 317.33,398.94 318.44,403.4 319.55,402.28 320.67,403.96 322.34,408.97 324.01,416.77 325.68,422.34 327.35,422.34 328.13,411.2 329.03,386.69 330.7,391.14 332.29,379.59 333.85,378.47 335.19,377.36 336.75,370.68 337.86,364 339.64,365.11 341.2,364 342.76,366.22 344.54,362.88 346.1,367.34 347.88,368.45 349.44,368.45 351.22,367.34 353.01,361.77 354.57,351.75 355.68,355.09 356.79,361.77 358.35,365.11 360.13,364 361.92,362.88 363.47,367.34 365.03,374.02 366.82,378.47 368.6,374.02 370.16,371.79 371.71,375.13 373.5,377.36 375.28,375.13 376.84,374.02 378.4,370.68 380.18,364 381.96,358.43 382.85,359.54 384.19,368.45 385.75,380.7 387.31,388.5 388.64,389.61 390.2,384.04 391.31,377.36 392.43,372.91 393.54,375.13 394.65,376.25 395.77,374.02 397.55,377.36 399.11,378.47 400,379.59 401.78,386.27 403.34,394.06 404.45,399.63 405.57,388.5 407.13,378.47 408.46,375.13 409.35,378.47 410.69,368.45 412.25,366.22 413.36,368.45 415.14,359.54 416.7,365.11 418.26,372.91 419.6,368.45 421.16,361.77 422.27,360.66 424.05,369.57 425.61,368.45 427.17,362.88 428.51,356.2 430.07,349.52 431.18,346.18 432.29,348.41 433.41,353.98 434.52,357.32 436.08,355.09 437.86,352.86 439.64,351.75 441.2,346.18 442.76,349.52 444.1,355.09 445.66,359.54 446.77,368.45 447.88,381.82 449.44,395.18 450.78,400.75 452.34,396.29 453.45,392.95 454.57,399.63 455.68,404.09 457.46,400.75 459.02,394.06 460.58,391.84 461.92,392.95 463.47,397.41 464.59,400.75 465.7,395.18 466.82,391.84 468.6,388.5 470.16,386.27 471.27,390.72 472.38,394.06 473.5,399.63 475.28,398.52 476.84,400.75 478.4,410.77 479.73,408.54 480.62,401.86 481.96,391.84 483.52,381.82 484.63,378.47 485.75,381.82 487.31,379.59 488.64,384.04 490.2,381.82 491.76,394.06 493.1,386.27 494.65,375.13 496.21,370.68 497.55,361.77 499.11,360.66 500,361.77 502.23,362.88 504.45,364 506.68,369.57 508.46,365.11 510.02,358.43 511.58,351.75 513.36,352.86 515.14,352.86 516.7,348.41 518.26,345.07 519.6,343.95 521.16,349.52 522.72,345.07 524.5,355.09 526.28,348.41 527.84,347.29 529.4,343.95 531.18,341.73 532.96,339.5 534.08,337.27 535.19,347.29 536.08,357.32 537.42,356.2 538.31,360.66 539.64,370.68 540.53,379.59 541.87,384.04 543.43,381.82 544.99,380.7 546.33,379.59 547.88,388.5 549.44,392.95 550.78,397.41 552.34,391.84 553.9,399.63 555.68,406.31 556.79,392.95 557.91,378.47 559.02,386.27 560.58,381.82 562.36,381.82 564.14,380.7 565.7,375.13 567.26,366.22 568.6,356.2 570.16,362.88 571.71,370.68 573.05,374.02 574.61,379.59 576.17,386.27 577.95,384.04 579.73,381.82 581.29,387.38 582.85,391.84 584.63,399.63 586.41,402.97 587.97,402.97 589.09,404.09 590.87,405.2 592.43,408.54 593.99,401.86 595.77,392.95 597.55,377.36 600,374.61 601.78,377.95 603.34,384.63 605.57,386.86 607.8,387.97 609.35,389.09 610.69,380.18 612.25,373.5 613.81,366.82 615.14,360.13 616.7,356.79 618.26,356.79 620.04,356.79 621.16,359.02 622.27,350.11 624.05,343.43 625.61,340.09 627.17,335.63 628.95,334.52 630.73,333.41 632.29,331.18 633.41,330.07 634.52,327.84 635.63,333.41 636.75,340.09 637.86,347.88 638.98,338.98 640.53,331.18 641.87,328.95 643.43,325.61 644.99,324.5 646.33,317.82 647.88,310.02 649.44,308.91 651.22,307.8 653.01,306.68 653.9,312.25 655.23,318.93 656.79,316.7 658.35,314.48 659.69,317.82 661.25,316.7 662.81,315.59 664.59,314.48 666.37,313.36 667.26,315.59 668.6,324.5 670.16,331.18 671.71,333.41 673.5,330.07 675.28,327.84 676.84,324.5 677.95,330.07 679.06,335.63 680.18,342.32 681.96,347.88 683.52,353.45 685.08,353.45 686.41,346.77 687.31,351.22 688.64,343.43 690.2,340.09 691.31,344.54 692.25,360.13 693.36,382.41 694.48,384.63 695.59,382.41 696.7,385.75 697.82,381.29 698.93,380.18 700.04,369.04 701.16,377.95 702.27,380.18 703.39,375.72 704.5,376.84 705.61,373.5 706.73,376.84 707.84,372.38 708.95,373.5 710.07,369.04 711.18,376.84 712.29,373.5 713.41,366.82 714.52,360.13 715.63,353.45 716.75,346.77 717.86,343.43 718.98,347.88 720.09,341.2 721.2,335.63 722.32,333.41 723.43,332.29 724.54,330.07 725.66,326.73 726.77,325.61 727.88,323.39 729.44,322.27 731.22,321.16 733.01,320.04 734.57,320.04 735.68,324.5 736.79,343.43 737.91,338.98 739.02,337.86 740.13,336.75 741.25,338.98 742.36,335.63 743.47,337.86 744.59,334.52 745.7,336.75 746.82,335.63 747.93,336.75 749.04,335.63 750.82,331.18 752.38,332.29 753.94,324.5 755.28,317.82 756.84,320.04 757.95,326.73 759.06,336.75 760.18,340.09 761.29,336.75 762.41,334.52 763.52,332.29 764.63,328.95 765.75,338.98 766.41,349 767.31,344.54 769.09,344.54 770.2,345.66 770.87,344.54" fill="none" stroke="#8478d4" stroke-width="0.75" stroke-linejoin="round"/>
<text x="171.5" y="352.8" font-size="12" fill="#1f1f1f" style="font-family:DejaVu Sans,sans-serif">RSI &lt; 30</text>
<text x="620" y="276" font-size="12" fill="#1f1f1f" style="font-family:DejaVu Sans,sans-serif">RSI &gt; 70</text>
<line x1="226.3" y1="352.9" x2="303.78" y2="407.47" stroke="#e60000" stroke-width="2.6"/><polygon points="309.5,411.5 300.8,409.96 305.12,403.83" fill="#e60000"/>
<line x1="644.5" y1="281.7" x2="635.24" y2="320" stroke="#e60000" stroke-width="2.6"/><polygon points="633.6,326.8 631.83,318.14 639.12,319.9" fill="#e60000"/>
<line x1="648.1" y1="281.7" x2="719.38" y2="321.21" stroke="#e60000" stroke-width="2.6"/><polygon points="725.5,324.6 716.68,324 720.32,317.44" fill="#e60000"/>
<text x="776.2" y="0.83" font-size="6.4" fill="#3b3e45" textLength="22.2" lengthAdjust="spacingAndGlyphs">16000.00</text>
<text x="776.2" y="15.8" font-size="6.4" fill="#3b3e45" textLength="22.2" lengthAdjust="spacingAndGlyphs">15750.00</text>
<text x="776.2" y="30.77" font-size="6.4" fill="#3b3e45" textLength="22.2" lengthAdjust="spacingAndGlyphs">15500.00</text>
<text x="776.2" y="60.72" font-size="6.4" fill="#3b3e45" textLength="22.2" lengthAdjust="spacingAndGlyphs">15000.00</text>
<text x="776.2" y="75.69" font-size="6.4" fill="#3b3e45" textLength="22.2" lengthAdjust="spacingAndGlyphs">14750.00</text>
<text x="776.2" y="90.66" font-size="6.4" fill="#3b3e45" textLength="22.2" lengthAdjust="spacingAndGlyphs">14500.00</text>
<text x="776.2" y="105.63" font-size="6.4" fill="#3b3e45" textLength="22.2" lengthAdjust="spacingAndGlyphs">14250.00</text>
<text x="776.2" y="120.61" font-size="6.4" fill="#3b3e45" textLength="22.2" lengthAdjust="spacingAndGlyphs">14000.00</text>
<text x="776.2" y="135.58" font-size="6.4" fill="#3b3e45" textLength="22.2" lengthAdjust="spacingAndGlyphs">13750.00</text>
<text x="776.2" y="150.55" font-size="6.4" fill="#3b3e45" textLength="22.2" lengthAdjust="spacingAndGlyphs">13500.00</text>
<text x="776.2" y="165.53" font-size="6.4" fill="#3b3e45" textLength="22.2" lengthAdjust="spacingAndGlyphs">13250.00</text>
<text x="776.2" y="180.5" font-size="6.4" fill="#3b3e45" textLength="22.2" lengthAdjust="spacingAndGlyphs">13000.00</text>
<text x="776.2" y="195.47" font-size="6.4" fill="#3b3e45" textLength="22.2" lengthAdjust="spacingAndGlyphs">12750.00</text>
<text x="776.2" y="210.44" font-size="6.4" fill="#3b3e45" textLength="22.2" lengthAdjust="spacingAndGlyphs">12500.00</text>
<text x="776.2" y="225.42" font-size="6.4" fill="#3b3e45" textLength="22.2" lengthAdjust="spacingAndGlyphs">12250.00</text>
<text x="776.2" y="240.39" font-size="6.4" fill="#3b3e45" textLength="22.2" lengthAdjust="spacingAndGlyphs">12000.00</text>
<text x="776.2" y="255.36" font-size="6.4" fill="#3b3e45" textLength="22.2" lengthAdjust="spacingAndGlyphs">11750.00</text>
<text x="776.2" y="270.33" font-size="6.4" fill="#3b3e45" textLength="22.2" lengthAdjust="spacingAndGlyphs">11500.00</text>
<text x="776.2" y="285.31" font-size="6.4" fill="#3b3e45" textLength="22.2" lengthAdjust="spacingAndGlyphs">11250.00</text>
<text x="776.2" y="310.05" font-size="6.4" fill="#3b3e45" textLength="13.5" lengthAdjust="spacingAndGlyphs">80.00</text>
<text x="776.2" y="330.2" font-size="6.4" fill="#3b3e45" textLength="13.5" lengthAdjust="spacingAndGlyphs">70.00</text>
<text x="776.2" y="370.5" font-size="6.4" fill="#3b3e45" textLength="13.5" lengthAdjust="spacingAndGlyphs">50.00</text>
<text x="776.2" y="390.65" font-size="6.4" fill="#3b3e45" textLength="13.5" lengthAdjust="spacingAndGlyphs">40.00</text>
<text x="776.2" y="410.8" font-size="6.4" fill="#3b3e45" textLength="13.5" lengthAdjust="spacingAndGlyphs">30.00</text>
<text x="776.2" y="430.95" font-size="6.4" fill="#3b3e45" textLength="13.5" lengthAdjust="spacingAndGlyphs">20.00</text>
<rect x="771" y="32.3" width="29" height="7.4" fill="#089981"/>
<text x="776.1" y="38.3" font-size="6.4" fill="#ffffff" textLength="22.3" lengthAdjust="spacingAndGlyphs">15381.43</text>
<rect x="771.4" y="40.1" width="28.6" height="7" fill="#ffffff" stroke="#f23645" stroke-width="0.7"/>
<text x="776.1" y="46.2" font-size="6.4" fill="#f23645" textLength="22.3" lengthAdjust="spacingAndGlyphs">15380.56</text>
<rect x="760.6" y="242.1" width="39.4" height="9.4" fill="#131722"/>
<rect x="770.4" y="242.1" width="0.6" height="9.4" fill="#3a3e48"/>
<circle cx="765.5" cy="247" r="2.9" fill="none" stroke="#d1d4dc" stroke-width="0.9"/>
<circle cx="765.5" cy="247" r="0.9" fill="#d1d4dc"/>
<text x="776" y="249.3" font-size="6.4" fill="#ffffff" font-weight="bold" textLength="22" lengthAdjust="spacingAndGlyphs">11856.28</text>
<rect x="771.5" y="332" width="20.5" height="7" rx="1" fill="#fffde5" stroke="#f6ee9a" stroke-width="0.7"/>
<text x="775.9" y="337.8" font-size="6.4" fill="#ece07a" textLength="13.7" lengthAdjust="spacingAndGlyphs">65.85</text>
<rect x="771.5" y="342.6" width="21" height="7.3" rx="1" fill="#ffffff" stroke="#7e6fd0" stroke-width="0.7"/>
<text x="775.9" y="349.2" font-size="6.4" fill="#6a5fb5" textLength="13.7" lengthAdjust="spacingAndGlyphs">61.08</text>
<text x="-0.5" y="301.8" font-size="6" fill="#efe060" textLength="12.5" lengthAdjust="spacingAndGlyphs">11.59</text>
<text x="15" y="301.8" font-size="6" fill="#3a3d46">Ø</text>
<text x="21.8" y="301.8" font-size="6" fill="#3a3d46">Ø</text>
<text x="5.7" y="443" font-size="5.5" text-anchor="middle" fill="#3b3e45">Jul</text>
<text x="45.5" y="443" font-size="5.5" text-anchor="middle" fill="#3b3e45">Aug</text>
<text x="85.7" y="443" font-size="5.5" text-anchor="middle" fill="#3b3e45">Sep</text>
<text x="126.2" y="443" font-size="5.5" text-anchor="middle" fill="#3b3e45">Oct</text>
<text x="165" y="443" font-size="5.5" text-anchor="middle" fill="#3b3e45">Nov</text>
<text x="205" y="443" font-size="5.5" text-anchor="middle" fill="#3b3e45">Dec</text>
<text x="243.1" y="443" font-size="5.5" text-anchor="middle" fill="#3b3e45" font-weight="bold">2022</text>
<text x="281.5" y="443" font-size="5.5" text-anchor="middle" fill="#3b3e45">Feb</text>
<text x="320" y="443" font-size="5.5" text-anchor="middle" fill="#3b3e45">2</text>
<text x="360.5" y="443" font-size="5.5" text-anchor="middle" fill="#3b3e45">Apr</text>
<text x="435.5" y="443" font-size="5.5" text-anchor="middle" fill="#3b3e45">Jun</text>
<text x="475.7" y="443" font-size="5.5" text-anchor="middle" fill="#3b3e45">Jul</text>
<text x="514" y="443" font-size="5.5" text-anchor="middle" fill="#3b3e45">Aug</text>
<text x="596" y="443" font-size="5.5" text-anchor="middle" fill="#3b3e45">Oct</text>
<text x="634.7" y="443" font-size="5.5" text-anchor="middle" fill="#3b3e45">Nov</text>
<text x="674" y="443" font-size="5.5" text-anchor="middle" fill="#3b3e45">Dec</text>
<text x="713" y="443" font-size="5.5" text-anchor="middle" fill="#3b3e45" font-weight="bold">2023</text>
<text x="753.5" y="443" font-size="5.5" text-anchor="middle" fill="#3b3e45">Feb</text>
<rect x="546.9" y="434.7" width="44.5" height="10.9" fill="#131722"/>
<text x="550.5" y="443.3" font-size="6" fill="#ffffff" font-weight="bold" textLength="36.8" lengthAdjust="spacingAndGlyphs">Mon 12 Sep '22</text>
<circle cx="757" cy="425.8" r="6.2" fill="#ffffff" stroke="#eef0f3" stroke-width="0.8"/>
<path d="M755.1 422.9 L757.5 425.6 L755.1 428.3 M757.6 422.9 L760 425.6 L757.6 428.3" fill="none" stroke="#55585f" stroke-width="1.1"/>
<polygon points="789.76,440.65 790.56,440.82 790.56,441.78 789.76,441.95 789.56,442.44 790.01,443.12 789.32,443.81 788.64,443.36 788.15,443.56 787.98,444.36 787.02,444.36 786.85,443.56 786.36,443.36 785.68,443.81 784.99,443.12 785.44,442.44 785.24,441.95 784.44,441.78 784.44,440.82 785.24,440.65 785.44,440.16 784.99,439.48 785.68,438.79 786.36,439.24 786.85,439.04 787.02,438.24 787.98,438.24 788.15,439.04 788.64,439.24 789.32,438.79 790.01,439.48 789.56,440.16" fill="none" stroke="#3b3e45" stroke-width="0.95" stroke-linejoin="round"/>
<circle cx="0" cy="418.3" r="5.8" fill="none" stroke="#ebebeb" stroke-width="0.6"/>
</svg></body></html>
